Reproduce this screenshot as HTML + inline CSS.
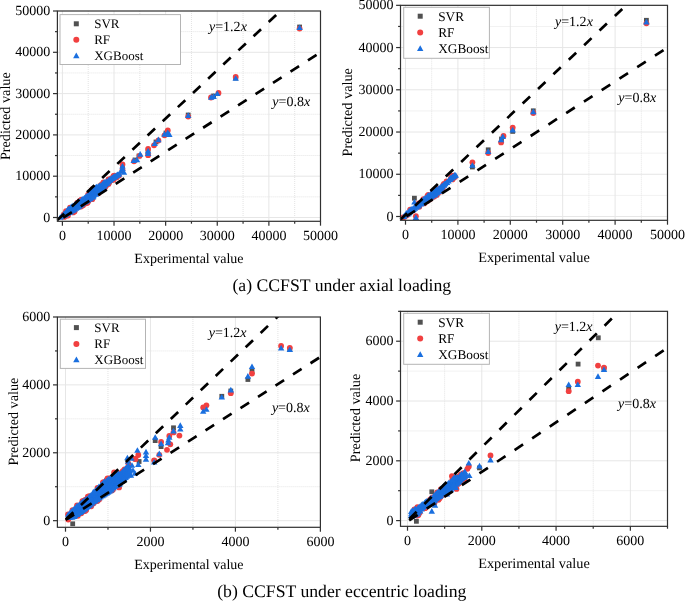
<!DOCTYPE html>
<html><head><meta charset="utf-8"><style>
html,body{margin:0;padding:0;background:#fff;}
body{width:685px;height:601px;overflow:hidden;font-family:"Liberation Serif", serif;}
svg{display:block;will-change:transform;text-rendering:geometricPrecision;}
</style></head><body>
<svg width="685" height="601" viewBox="0 0 685 601" font-family='"Liberation Serif", serif' fill="#000">
<defs>
<clipPath id="c0"><rect x="55.40" y="11.00" width="265.10" height="212.30"/></clipPath>
<clipPath id="c1"><rect x="398.50" y="5.33" width="269.00" height="216.97"/></clipPath>
<clipPath id="c2"><rect x="55.40" y="317.00" width="265.00" height="212.30"/></clipPath>
<clipPath id="c3"><rect x="398.50" y="311.33" width="269.00" height="217.00"/></clipPath>
</defs>
<rect width="685" height="601" fill="#fff"/>
<line x1="62.4" y1="11.00" x2="62.4" y2="221.30" stroke="#e6e6e6" stroke-width="1"/>
<line x1="114.02" y1="11.00" x2="114.02" y2="221.30" stroke="#e6e6e6" stroke-width="1"/>
<line x1="165.64" y1="11.00" x2="165.64" y2="221.30" stroke="#e6e6e6" stroke-width="1"/>
<line x1="217.26" y1="11.00" x2="217.26" y2="221.30" stroke="#e6e6e6" stroke-width="1"/>
<line x1="268.88" y1="11.00" x2="268.88" y2="221.30" stroke="#e6e6e6" stroke-width="1"/>
<line x1="88.21" y1="11.00" x2="88.21" y2="221.30" stroke="#e3e3e3" stroke-width="1" stroke-dasharray="1 1"/>
<line x1="139.83" y1="11.00" x2="139.83" y2="221.30" stroke="#e3e3e3" stroke-width="1" stroke-dasharray="1 1"/>
<line x1="191.45" y1="11.00" x2="191.45" y2="221.30" stroke="#e3e3e3" stroke-width="1" stroke-dasharray="1 1"/>
<line x1="243.07" y1="11.00" x2="243.07" y2="221.30" stroke="#e3e3e3" stroke-width="1" stroke-dasharray="1 1"/>
<line x1="294.69" y1="11.00" x2="294.69" y2="221.30" stroke="#e3e3e3" stroke-width="1" stroke-dasharray="1 1"/>
<line x1="57.40" y1="217.5" x2="320.50" y2="217.5" stroke="#e6e6e6" stroke-width="1"/>
<line x1="57.40" y1="176.2" x2="320.50" y2="176.2" stroke="#e6e6e6" stroke-width="1"/>
<line x1="57.40" y1="134.9" x2="320.50" y2="134.9" stroke="#e6e6e6" stroke-width="1"/>
<line x1="57.40" y1="93.6" x2="320.50" y2="93.6" stroke="#e6e6e6" stroke-width="1"/>
<line x1="57.40" y1="52.3" x2="320.50" y2="52.3" stroke="#e6e6e6" stroke-width="1"/>
<line x1="57.40" y1="196.85" x2="320.50" y2="196.85" stroke="#e3e3e3" stroke-width="1" stroke-dasharray="1 1"/>
<line x1="57.40" y1="155.55" x2="320.50" y2="155.55" stroke="#e3e3e3" stroke-width="1" stroke-dasharray="1 1"/>
<line x1="57.40" y1="114.25" x2="320.50" y2="114.25" stroke="#e3e3e3" stroke-width="1" stroke-dasharray="1 1"/>
<line x1="57.40" y1="72.95" x2="320.50" y2="72.95" stroke="#e3e3e3" stroke-width="1" stroke-dasharray="1 1"/>
<line x1="57.40" y1="31.65" x2="320.50" y2="31.65" stroke="#e3e3e3" stroke-width="1" stroke-dasharray="1 1"/>
<line x1="405.5" y1="5.33" x2="405.5" y2="220.30" stroke="#e6e6e6" stroke-width="1"/>
<line x1="457.9" y1="5.33" x2="457.9" y2="220.30" stroke="#e6e6e6" stroke-width="1"/>
<line x1="510.3" y1="5.33" x2="510.3" y2="220.30" stroke="#e6e6e6" stroke-width="1"/>
<line x1="562.7" y1="5.33" x2="562.7" y2="220.30" stroke="#e6e6e6" stroke-width="1"/>
<line x1="615.1" y1="5.33" x2="615.1" y2="220.30" stroke="#e6e6e6" stroke-width="1"/>
<line x1="431.7" y1="5.33" x2="431.7" y2="220.30" stroke="#e3e3e3" stroke-width="1" stroke-dasharray="1 1"/>
<line x1="484.1" y1="5.33" x2="484.1" y2="220.30" stroke="#e3e3e3" stroke-width="1" stroke-dasharray="1 1"/>
<line x1="536.5" y1="5.33" x2="536.5" y2="220.30" stroke="#e3e3e3" stroke-width="1" stroke-dasharray="1 1"/>
<line x1="588.9" y1="5.33" x2="588.9" y2="220.30" stroke="#e3e3e3" stroke-width="1" stroke-dasharray="1 1"/>
<line x1="641.3" y1="5.33" x2="641.3" y2="220.30" stroke="#e3e3e3" stroke-width="1" stroke-dasharray="1 1"/>
<line x1="400.50" y1="216.5" x2="667.50" y2="216.5" stroke="#e6e6e6" stroke-width="1"/>
<line x1="400.50" y1="174.27" x2="667.50" y2="174.27" stroke="#e6e6e6" stroke-width="1"/>
<line x1="400.50" y1="132.03" x2="667.50" y2="132.03" stroke="#e6e6e6" stroke-width="1"/>
<line x1="400.50" y1="89.8" x2="667.50" y2="89.8" stroke="#e6e6e6" stroke-width="1"/>
<line x1="400.50" y1="47.56" x2="667.50" y2="47.56" stroke="#e6e6e6" stroke-width="1"/>
<line x1="400.50" y1="195.38" x2="667.50" y2="195.38" stroke="#e3e3e3" stroke-width="1" stroke-dasharray="1 1"/>
<line x1="400.50" y1="153.15" x2="667.50" y2="153.15" stroke="#e3e3e3" stroke-width="1" stroke-dasharray="1 1"/>
<line x1="400.50" y1="110.92" x2="667.50" y2="110.92" stroke="#e3e3e3" stroke-width="1" stroke-dasharray="1 1"/>
<line x1="400.50" y1="68.68" x2="667.50" y2="68.68" stroke="#e3e3e3" stroke-width="1" stroke-dasharray="1 1"/>
<line x1="400.50" y1="26.45" x2="667.50" y2="26.45" stroke="#e3e3e3" stroke-width="1" stroke-dasharray="1 1"/>
<line x1="65.5" y1="317.00" x2="65.5" y2="527.30" stroke="#e6e6e6" stroke-width="1"/>
<line x1="150.46" y1="317.00" x2="150.46" y2="527.30" stroke="#e6e6e6" stroke-width="1"/>
<line x1="235.42" y1="317.00" x2="235.42" y2="527.30" stroke="#e6e6e6" stroke-width="1"/>
<line x1="107.98" y1="317.00" x2="107.98" y2="527.30" stroke="#e3e3e3" stroke-width="1" stroke-dasharray="1 1"/>
<line x1="192.94" y1="317.00" x2="192.94" y2="527.30" stroke="#e3e3e3" stroke-width="1" stroke-dasharray="1 1"/>
<line x1="277.9" y1="317.00" x2="277.9" y2="527.30" stroke="#e3e3e3" stroke-width="1" stroke-dasharray="1 1"/>
<line x1="57.40" y1="520.67" x2="320.40" y2="520.67" stroke="#e6e6e6" stroke-width="1"/>
<line x1="57.40" y1="452.78" x2="320.40" y2="452.78" stroke="#e6e6e6" stroke-width="1"/>
<line x1="57.40" y1="384.89" x2="320.40" y2="384.89" stroke="#e6e6e6" stroke-width="1"/>
<line x1="57.40" y1="486.72" x2="320.40" y2="486.72" stroke="#e3e3e3" stroke-width="1" stroke-dasharray="1 1"/>
<line x1="57.40" y1="418.83" x2="320.40" y2="418.83" stroke="#e3e3e3" stroke-width="1" stroke-dasharray="1 1"/>
<line x1="57.40" y1="350.94" x2="320.40" y2="350.94" stroke="#e3e3e3" stroke-width="1" stroke-dasharray="1 1"/>
<line x1="407.5" y1="311.33" x2="407.5" y2="526.33" stroke="#e6e6e6" stroke-width="1"/>
<line x1="481.79" y1="311.33" x2="481.79" y2="526.33" stroke="#e6e6e6" stroke-width="1"/>
<line x1="556.07" y1="311.33" x2="556.07" y2="526.33" stroke="#e6e6e6" stroke-width="1"/>
<line x1="630.36" y1="311.33" x2="630.36" y2="526.33" stroke="#e6e6e6" stroke-width="1"/>
<line x1="444.64" y1="311.33" x2="444.64" y2="526.33" stroke="#e3e3e3" stroke-width="1" stroke-dasharray="1 1"/>
<line x1="518.93" y1="311.33" x2="518.93" y2="526.33" stroke="#e3e3e3" stroke-width="1" stroke-dasharray="1 1"/>
<line x1="593.22" y1="311.33" x2="593.22" y2="526.33" stroke="#e3e3e3" stroke-width="1" stroke-dasharray="1 1"/>
<line x1="400.50" y1="520.6" x2="667.50" y2="520.6" stroke="#e6e6e6" stroke-width="1"/>
<line x1="400.50" y1="460.81" x2="667.50" y2="460.81" stroke="#e6e6e6" stroke-width="1"/>
<line x1="400.50" y1="401.02" x2="667.50" y2="401.02" stroke="#e6e6e6" stroke-width="1"/>
<line x1="400.50" y1="341.22" x2="667.50" y2="341.22" stroke="#e6e6e6" stroke-width="1"/>
<line x1="400.50" y1="490.7" x2="667.50" y2="490.7" stroke="#e3e3e3" stroke-width="1" stroke-dasharray="1 1"/>
<line x1="400.50" y1="430.91" x2="667.50" y2="430.91" stroke="#e3e3e3" stroke-width="1" stroke-dasharray="1 1"/>
<line x1="400.50" y1="371.12" x2="667.50" y2="371.12" stroke="#e3e3e3" stroke-width="1" stroke-dasharray="1 1"/>
<rect x="297.20" y="24.60" width="4.8" height="4.8" fill="#515151"/>
<rect x="233.30" y="75.60" width="4.8" height="4.8" fill="#515151"/>
<rect x="211.20" y="93.60" width="4.8" height="4.8" fill="#515151"/>
<rect x="185.80" y="112.60" width="4.8" height="4.8" fill="#515151"/>
<rect x="163.60" y="130.60" width="4.8" height="4.8" fill="#515151"/>
<rect x="153.60" y="139.60" width="4.8" height="4.8" fill="#515151"/>
<rect x="145.60" y="149.60" width="4.8" height="4.8" fill="#515151"/>
<rect x="136.60" y="153.60" width="4.8" height="4.8" fill="#515151"/>
<rect x="132.60" y="157.60" width="4.8" height="4.8" fill="#515151"/>
<rect x="120.10" y="164.60" width="4.8" height="4.8" fill="#515151"/>
<circle cx="63.64" cy="214.64" r="2.9" fill="#F14040"/>
<circle cx="65.15" cy="213.46" r="2.9" fill="#F14040"/>
<circle cx="64.23" cy="216.93" r="2.9" fill="#F14040"/>
<circle cx="66.04" cy="211.24" r="2.9" fill="#F14040"/>
<circle cx="65.83" cy="215.70" r="2.9" fill="#F14040"/>
<circle cx="67.99" cy="215.62" r="2.9" fill="#F14040"/>
<circle cx="70.04" cy="207.73" r="2.9" fill="#F14040"/>
<circle cx="73.10" cy="212.40" r="2.9" fill="#F14040"/>
<circle cx="74.55" cy="211.42" r="2.9" fill="#F14040"/>
<circle cx="77.34" cy="202.74" r="2.9" fill="#F14040"/>
<circle cx="79.71" cy="200.97" r="2.9" fill="#F14040"/>
<circle cx="79.67" cy="206.62" r="2.9" fill="#F14040"/>
<circle cx="81.39" cy="199.68" r="2.9" fill="#F14040"/>
<circle cx="81.11" cy="206.51" r="2.9" fill="#F14040"/>
<circle cx="83.10" cy="205.25" r="2.9" fill="#F14040"/>
<circle cx="86.14" cy="203.33" r="2.9" fill="#F14040"/>
<circle cx="87.47" cy="202.67" r="2.9" fill="#F14040"/>
<circle cx="88.10" cy="194.68" r="2.9" fill="#F14040"/>
<circle cx="88.50" cy="201.06" r="2.9" fill="#F14040"/>
<circle cx="89.61" cy="192.68" r="2.9" fill="#F14040"/>
<circle cx="91.71" cy="190.06" r="2.9" fill="#F14040"/>
<circle cx="92.75" cy="188.86" r="2.9" fill="#F14040"/>
<circle cx="92.27" cy="199.20" r="2.9" fill="#F14040"/>
<circle cx="94.49" cy="188.36" r="2.9" fill="#F14040"/>
<circle cx="95.24" cy="188.07" r="2.9" fill="#F14040"/>
<circle cx="98.40" cy="193.21" r="2.9" fill="#F14040"/>
<circle cx="100.88" cy="185.22" r="2.9" fill="#F14040"/>
<circle cx="102.32" cy="184.08" r="2.9" fill="#F14040"/>
<circle cx="103.42" cy="182.38" r="2.9" fill="#F14040"/>
<circle cx="103.95" cy="187.56" r="2.9" fill="#F14040"/>
<circle cx="105.30" cy="186.95" r="2.9" fill="#F14040"/>
<circle cx="106.31" cy="185.14" r="2.9" fill="#F14040"/>
<circle cx="108.51" cy="179.28" r="2.9" fill="#F14040"/>
<circle cx="108.50" cy="184.02" r="2.9" fill="#F14040"/>
<circle cx="109.43" cy="181.91" r="2.9" fill="#F14040"/>
<circle cx="111.36" cy="178.36" r="2.9" fill="#F14040"/>
<circle cx="112.06" cy="179.81" r="2.9" fill="#F14040"/>
<circle cx="113.55" cy="175.94" r="2.9" fill="#F14040"/>
<circle cx="113.46" cy="179.81" r="2.9" fill="#F14040"/>
<circle cx="114.61" cy="175.74" r="2.9" fill="#F14040"/>
<circle cx="116.50" cy="177.49" r="2.9" fill="#F14040"/>
<circle cx="118.87" cy="175.72" r="2.9" fill="#F14040"/>
<circle cx="299.60" cy="28.60" r="2.9" fill="#F14040"/>
<circle cx="235.70" cy="77.00" r="2.9" fill="#F14040"/>
<circle cx="218.50" cy="92.90" r="2.9" fill="#F14040"/>
<circle cx="211.00" cy="97.50" r="2.9" fill="#F14040"/>
<circle cx="188.20" cy="116.60" r="2.9" fill="#F14040"/>
<circle cx="167.80" cy="130.50" r="2.9" fill="#F14040"/>
<circle cx="164.50" cy="135.30" r="2.9" fill="#F14040"/>
<circle cx="154.00" cy="145.30" r="2.9" fill="#F14040"/>
<circle cx="158.40" cy="140.50" r="2.9" fill="#F14040"/>
<circle cx="148.10" cy="155.20" r="2.9" fill="#F14040"/>
<circle cx="148.10" cy="149.00" r="2.9" fill="#F14040"/>
<circle cx="139.60" cy="155.80" r="2.9" fill="#F14040"/>
<circle cx="134.00" cy="161.30" r="2.9" fill="#F14040"/>
<circle cx="122.50" cy="164.40" r="2.9" fill="#F14040"/>
<circle cx="122.50" cy="170.00" r="2.9" fill="#F14040"/>
<path d="M60.21 214.18L63.41 219.78L57.01 219.78Z" fill="#1A6FDF"/>
<path d="M61.70 213.17L64.90 218.77L58.50 218.77Z" fill="#1A6FDF"/>
<path d="M63.45 212.15L66.65 217.75L60.25 217.75Z" fill="#1A6FDF"/>
<path d="M62.89 212.49L66.09 218.09L59.69 218.09Z" fill="#1A6FDF"/>
<path d="M64.20 210.14L67.40 215.74L61.00 215.74Z" fill="#1A6FDF"/>
<path d="M64.92 211.98L68.12 217.58L61.72 217.58Z" fill="#1A6FDF"/>
<path d="M66.54 208.35L69.74 213.95L63.34 213.95Z" fill="#1A6FDF"/>
<path d="M65.82 210.38L69.02 215.98L62.62 215.98Z" fill="#1A6FDF"/>
<path d="M65.63 211.14L68.83 216.74L62.43 216.74Z" fill="#1A6FDF"/>
<path d="M67.46 206.84L70.66 212.44L64.26 212.44Z" fill="#1A6FDF"/>
<path d="M67.02 209.27L70.22 214.87L63.82 214.87Z" fill="#1A6FDF"/>
<path d="M67.56 210.29L70.76 215.89L64.36 215.89Z" fill="#1A6FDF"/>
<path d="M68.52 205.65L71.72 211.25L65.32 211.25Z" fill="#1A6FDF"/>
<path d="M69.12 207.96L72.32 213.56L65.92 213.56Z" fill="#1A6FDF"/>
<path d="M69.34 209.45L72.54 215.05L66.14 215.05Z" fill="#1A6FDF"/>
<path d="M70.47 204.41L73.67 210.01L67.27 210.01Z" fill="#1A6FDF"/>
<path d="M70.39 206.88L73.59 212.48L67.19 212.48Z" fill="#1A6FDF"/>
<path d="M70.65 208.57L73.85 214.17L67.45 214.17Z" fill="#1A6FDF"/>
<path d="M70.39 208.61L73.59 214.21L67.19 214.21Z" fill="#1A6FDF"/>
<path d="M71.37 203.48L74.57 209.08L68.17 209.08Z" fill="#1A6FDF"/>
<path d="M71.90 205.58L75.10 211.18L68.70 211.18Z" fill="#1A6FDF"/>
<path d="M71.57 207.39L74.77 212.99L68.37 212.99Z" fill="#1A6FDF"/>
<path d="M71.71 207.76L74.91 213.36L68.51 213.36Z" fill="#1A6FDF"/>
<path d="M72.99 202.50L76.19 208.10L69.79 208.10Z" fill="#1A6FDF"/>
<path d="M72.63 204.15L75.83 209.75L69.43 209.75Z" fill="#1A6FDF"/>
<path d="M73.30 206.90L76.50 212.50L70.10 212.50Z" fill="#1A6FDF"/>
<path d="M73.19 206.92L76.39 212.52L69.99 212.52Z" fill="#1A6FDF"/>
<path d="M74.77 201.62L77.97 207.22L71.57 207.22Z" fill="#1A6FDF"/>
<path d="M74.86 203.38L78.06 208.98L71.66 208.98Z" fill="#1A6FDF"/>
<path d="M74.51 205.95L77.71 211.55L71.31 211.55Z" fill="#1A6FDF"/>
<path d="M74.58 205.98L77.78 211.58L71.38 211.58Z" fill="#1A6FDF"/>
<path d="M75.41 200.89L78.61 206.49L72.21 206.49Z" fill="#1A6FDF"/>
<path d="M76.22 202.97L79.42 208.57L73.02 208.57Z" fill="#1A6FDF"/>
<path d="M76.14 204.91L79.34 210.51L72.94 210.51Z" fill="#1A6FDF"/>
<path d="M75.92 205.01L79.12 210.61L72.72 210.61Z" fill="#1A6FDF"/>
<path d="M76.86 200.08L80.06 205.68L73.66 205.68Z" fill="#1A6FDF"/>
<path d="M77.37 201.55L80.57 207.15L74.17 207.15Z" fill="#1A6FDF"/>
<path d="M77.30 203.78L80.50 209.38L74.10 209.38Z" fill="#1A6FDF"/>
<path d="M77.16 204.05L80.36 209.65L73.96 209.65Z" fill="#1A6FDF"/>
<path d="M78.66 198.53L81.86 204.13L75.46 204.13Z" fill="#1A6FDF"/>
<path d="M78.43 200.65L81.63 206.25L75.23 206.25Z" fill="#1A6FDF"/>
<path d="M78.78 203.20L81.98 208.80L75.58 208.80Z" fill="#1A6FDF"/>
<path d="M79.00 203.09L82.20 208.69L75.80 208.69Z" fill="#1A6FDF"/>
<path d="M79.86 198.30L83.06 203.90L76.66 203.90Z" fill="#1A6FDF"/>
<path d="M80.27 199.69L83.47 205.29L77.07 205.29Z" fill="#1A6FDF"/>
<path d="M79.62 201.64L82.82 207.24L76.42 207.24Z" fill="#1A6FDF"/>
<path d="M80.36 202.13L83.56 207.73L77.16 207.73Z" fill="#1A6FDF"/>
<path d="M81.53 196.71L84.73 202.31L78.33 202.31Z" fill="#1A6FDF"/>
<path d="M81.27 199.14L84.47 204.74L78.07 204.74Z" fill="#1A6FDF"/>
<path d="M81.45 200.83L84.65 206.43L78.25 206.43Z" fill="#1A6FDF"/>
<path d="M81.47 201.13L84.67 206.73L78.27 206.73Z" fill="#1A6FDF"/>
<path d="M82.91 195.69L86.11 201.29L79.71 201.29Z" fill="#1A6FDF"/>
<path d="M83.01 198.18L86.21 203.78L79.81 203.78Z" fill="#1A6FDF"/>
<path d="M82.42 199.54L85.62 205.14L79.22 205.14Z" fill="#1A6FDF"/>
<path d="M82.55 200.13L85.75 205.73L79.35 205.73Z" fill="#1A6FDF"/>
<path d="M84.34 194.65L87.54 200.25L81.14 200.25Z" fill="#1A6FDF"/>
<path d="M84.78 197.11L87.98 202.71L81.58 202.71Z" fill="#1A6FDF"/>
<path d="M84.32 198.65L87.52 204.25L81.12 204.25Z" fill="#1A6FDF"/>
<path d="M84.45 199.14L87.65 204.74L81.25 204.74Z" fill="#1A6FDF"/>
<path d="M85.52 193.91L88.72 199.51L82.32 199.51Z" fill="#1A6FDF"/>
<path d="M85.26 195.65L88.46 201.25L82.06 201.25Z" fill="#1A6FDF"/>
<path d="M86.17 198.11L89.37 203.71L82.97 203.71Z" fill="#1A6FDF"/>
<path d="M85.51 198.14L88.71 203.74L82.31 203.74Z" fill="#1A6FDF"/>
<path d="M87.02 192.54L90.22 198.14L83.82 198.14Z" fill="#1A6FDF"/>
<path d="M86.61 195.04L89.81 200.64L83.41 200.64Z" fill="#1A6FDF"/>
<path d="M86.64 197.00L89.84 202.60L83.44 202.60Z" fill="#1A6FDF"/>
<path d="M87.56 197.20L90.76 202.80L84.36 202.80Z" fill="#1A6FDF"/>
<path d="M88.70 191.68L91.90 197.28L85.50 197.28Z" fill="#1A6FDF"/>
<path d="M88.38 193.55L91.58 199.15L85.18 199.15Z" fill="#1A6FDF"/>
<path d="M88.21 195.82L91.41 201.42L85.01 201.42Z" fill="#1A6FDF"/>
<path d="M88.43 196.37L91.63 201.97L85.23 201.97Z" fill="#1A6FDF"/>
<path d="M90.27 189.99L93.47 195.59L87.07 195.59Z" fill="#1A6FDF"/>
<path d="M89.42 191.43L92.62 197.03L86.22 197.03Z" fill="#1A6FDF"/>
<path d="M89.73 194.06L92.93 199.66L86.53 199.66Z" fill="#1A6FDF"/>
<path d="M90.18 195.53L93.38 201.13L86.98 201.13Z" fill="#1A6FDF"/>
<path d="M91.73 187.48L94.93 193.08L88.53 193.08Z" fill="#1A6FDF"/>
<path d="M91.68 189.75L94.88 195.35L88.48 195.35Z" fill="#1A6FDF"/>
<path d="M91.28 191.99L94.48 197.59L88.08 197.59Z" fill="#1A6FDF"/>
<path d="M91.03 193.78L94.23 199.38L87.83 199.38Z" fill="#1A6FDF"/>
<path d="M90.88 194.69L94.08 200.29L87.68 200.29Z" fill="#1A6FDF"/>
<path d="M92.80 186.81L96.00 192.41L89.60 192.41Z" fill="#1A6FDF"/>
<path d="M92.57 188.41L95.77 194.01L89.37 194.01Z" fill="#1A6FDF"/>
<path d="M92.49 190.83L95.69 196.43L89.29 196.43Z" fill="#1A6FDF"/>
<path d="M92.80 192.90L96.00 198.50L89.60 198.50Z" fill="#1A6FDF"/>
<path d="M93.09 193.86L96.29 199.46L89.89 199.46Z" fill="#1A6FDF"/>
<path d="M94.39 185.74L97.59 191.34L91.19 191.34Z" fill="#1A6FDF"/>
<path d="M93.94 187.57L97.14 193.17L90.74 193.17Z" fill="#1A6FDF"/>
<path d="M94.38 189.38L97.58 194.98L91.18 194.98Z" fill="#1A6FDF"/>
<path d="M94.17 191.26L97.37 196.86L90.97 196.86Z" fill="#1A6FDF"/>
<path d="M93.68 192.64L96.88 198.24L90.48 198.24Z" fill="#1A6FDF"/>
<path d="M95.46 184.51L98.66 190.11L92.26 190.11Z" fill="#1A6FDF"/>
<path d="M95.79 186.95L98.99 192.55L92.59 192.55Z" fill="#1A6FDF"/>
<path d="M95.01 188.82L98.21 194.42L91.81 194.42Z" fill="#1A6FDF"/>
<path d="M95.09 190.38L98.29 195.98L91.89 195.98Z" fill="#1A6FDF"/>
<path d="M95.89 191.13L99.09 196.73L92.69 196.73Z" fill="#1A6FDF"/>
<path d="M96.52 183.77L99.72 189.37L93.32 189.37Z" fill="#1A6FDF"/>
<path d="M96.64 186.23L99.84 191.83L93.44 191.83Z" fill="#1A6FDF"/>
<path d="M96.50 188.36L99.70 193.96L93.30 193.96Z" fill="#1A6FDF"/>
<path d="M96.78 189.63L99.98 195.23L93.58 195.23Z" fill="#1A6FDF"/>
<path d="M98.09 183.19L101.29 188.79L94.89 188.79Z" fill="#1A6FDF"/>
<path d="M98.28 185.07L101.48 190.67L95.08 190.67Z" fill="#1A6FDF"/>
<path d="M98.45 187.02L101.65 192.62L95.25 192.62Z" fill="#1A6FDF"/>
<path d="M97.81 188.37L101.01 193.97L94.61 193.97Z" fill="#1A6FDF"/>
<path d="M99.51 182.39L102.71 187.99L96.31 187.99Z" fill="#1A6FDF"/>
<path d="M100.11 185.11L103.31 190.71L96.91 190.71Z" fill="#1A6FDF"/>
<path d="M100.17 186.43L103.37 192.03L96.97 192.03Z" fill="#1A6FDF"/>
<path d="M99.42 187.20L102.62 192.80L96.22 192.80Z" fill="#1A6FDF"/>
<path d="M101.14 181.99L104.34 187.59L97.94 187.59Z" fill="#1A6FDF"/>
<path d="M101.26 183.64L104.46 189.24L98.06 189.24Z" fill="#1A6FDF"/>
<path d="M101.14 185.68L104.34 191.28L97.94 191.28Z" fill="#1A6FDF"/>
<path d="M100.85 186.03L104.05 191.63L97.65 191.63Z" fill="#1A6FDF"/>
<path d="M102.65 180.98L105.85 186.58L99.45 186.58Z" fill="#1A6FDF"/>
<path d="M102.94 182.78L106.14 188.38L99.74 188.38Z" fill="#1A6FDF"/>
<path d="M102.31 184.65L105.51 190.25L99.11 190.25Z" fill="#1A6FDF"/>
<path d="M103.70 179.76L106.90 185.36L100.50 185.36Z" fill="#1A6FDF"/>
<path d="M103.94 181.95L107.14 187.55L100.74 187.55Z" fill="#1A6FDF"/>
<path d="M104.00 183.17L107.20 188.77L100.80 188.77Z" fill="#1A6FDF"/>
<path d="M104.88 179.03L108.08 184.63L101.68 184.63Z" fill="#1A6FDF"/>
<path d="M105.09 181.15L108.29 186.75L101.89 186.75Z" fill="#1A6FDF"/>
<path d="M105.29 181.70L108.49 187.30L102.09 187.30Z" fill="#1A6FDF"/>
<path d="M106.28 178.33L109.48 183.93L103.08 183.93Z" fill="#1A6FDF"/>
<path d="M106.37 180.19L109.57 185.79L103.17 185.79Z" fill="#1A6FDF"/>
<path d="M107.18 180.23L110.38 185.83L103.98 185.83Z" fill="#1A6FDF"/>
<path d="M108.52 176.88L111.72 182.48L105.32 182.48Z" fill="#1A6FDF"/>
<path d="M108.49 178.75L111.69 184.35L105.29 184.35Z" fill="#1A6FDF"/>
<path d="M109.91 176.39L113.11 181.99L106.71 181.99Z" fill="#1A6FDF"/>
<path d="M109.75 177.42L112.95 183.02L106.55 183.02Z" fill="#1A6FDF"/>
<path d="M111.11 175.33L114.31 180.93L107.91 180.93Z" fill="#1A6FDF"/>
<path d="M110.65 176.45L113.85 182.05L107.45 182.05Z" fill="#1A6FDF"/>
<path d="M112.34 174.55L115.54 180.15L109.14 180.15Z" fill="#1A6FDF"/>
<path d="M112.25 175.48L115.45 181.08L109.05 181.08Z" fill="#1A6FDF"/>
<path d="M113.85 173.51L117.05 179.11L110.65 179.11Z" fill="#1A6FDF"/>
<path d="M113.77 174.52L116.97 180.12L110.57 180.12Z" fill="#1A6FDF"/>
<path d="M115.00 172.82L118.20 178.42L111.80 178.42Z" fill="#1A6FDF"/>
<path d="M115.21 173.55L118.41 179.15L112.01 179.15Z" fill="#1A6FDF"/>
<path d="M116.65 172.18L119.85 177.78L113.45 177.78Z" fill="#1A6FDF"/>
<path d="M116.69 172.62L119.89 178.22L113.49 178.22Z" fill="#1A6FDF"/>
<path d="M117.63 171.49L120.83 177.09L114.43 177.09Z" fill="#1A6FDF"/>
<path d="M117.96 171.71L121.16 177.31L114.76 177.31Z" fill="#1A6FDF"/>
<path d="M119.12 170.84L122.32 176.44L115.92 176.44Z" fill="#1A6FDF"/>
<path d="M299.60 24.40L302.80 30.00L296.40 30.00Z" fill="#1A6FDF"/>
<path d="M235.70 75.20L238.90 80.80L232.50 80.80Z" fill="#1A6FDF"/>
<path d="M211.20 94.10L214.40 99.70L208.00 99.70Z" fill="#1A6FDF"/>
<path d="M213.60 93.30L216.80 98.90L210.40 98.90Z" fill="#1A6FDF"/>
<path d="M217.30 90.40L220.50 96.00L214.10 96.00Z" fill="#1A6FDF"/>
<path d="M188.20 112.30L191.40 117.90L185.00 117.90Z" fill="#1A6FDF"/>
<path d="M164.50 131.10L167.70 136.70L161.30 136.70Z" fill="#1A6FDF"/>
<path d="M167.80 129.40L171.00 135.00L164.60 135.00Z" fill="#1A6FDF"/>
<path d="M169.40 131.40L172.60 137.00L166.20 137.00Z" fill="#1A6FDF"/>
<path d="M154.70 140.30L157.90 145.90L151.50 145.90Z" fill="#1A6FDF"/>
<path d="M158.40 136.60L161.60 142.20L155.20 142.20Z" fill="#1A6FDF"/>
<path d="M148.10 147.80L151.30 153.40L144.90 153.40Z" fill="#1A6FDF"/>
<path d="M148.10 150.40L151.30 156.00L144.90 156.00Z" fill="#1A6FDF"/>
<path d="M140.20 151.10L143.40 156.70L137.00 156.70Z" fill="#1A6FDF"/>
<path d="M133.70 157.40L136.90 163.00L130.50 163.00Z" fill="#1A6FDF"/>
<path d="M137.00 156.60L140.20 162.20L133.80 162.20Z" fill="#1A6FDF"/>
<path d="M122.50 162.90L125.70 168.50L119.30 168.50Z" fill="#1A6FDF"/>
<path d="M122.50 165.50L125.70 171.10L119.30 171.10Z" fill="#1A6FDF"/>
<path d="M121.00 168.20L124.20 173.80L117.80 173.80Z" fill="#1A6FDF"/>
<path d="M124.00 169.20L127.20 174.80L120.80 174.80Z" fill="#1A6FDF"/>
<rect x="644.00" y="17.90" width="4.8" height="4.8" fill="#515151"/>
<rect x="530.90" y="108.40" width="4.8" height="4.8" fill="#515151"/>
<rect x="510.30" y="129.00" width="4.8" height="4.8" fill="#515151"/>
<rect x="499.10" y="136.60" width="4.8" height="4.8" fill="#515151"/>
<rect x="485.80" y="147.40" width="4.8" height="4.8" fill="#515151"/>
<rect x="470.00" y="164.60" width="4.8" height="4.8" fill="#515151"/>
<rect x="412.00" y="195.80" width="4.8" height="4.8" fill="#515151"/>
<circle cx="403.08" cy="217.29" r="2.9" fill="#F14040"/>
<circle cx="405.01" cy="216.61" r="2.9" fill="#F14040"/>
<circle cx="407.24" cy="215.12" r="2.9" fill="#F14040"/>
<circle cx="410.14" cy="209.61" r="2.9" fill="#F14040"/>
<circle cx="418.72" cy="203.42" r="2.9" fill="#F14040"/>
<circle cx="419.31" cy="206.65" r="2.9" fill="#F14040"/>
<circle cx="423.34" cy="199.14" r="2.9" fill="#F14040"/>
<circle cx="424.21" cy="203.46" r="2.9" fill="#F14040"/>
<circle cx="426.35" cy="201.47" r="2.9" fill="#F14040"/>
<circle cx="427.49" cy="196.02" r="2.9" fill="#F14040"/>
<circle cx="427.79" cy="200.66" r="2.9" fill="#F14040"/>
<circle cx="428.23" cy="194.92" r="2.9" fill="#F14040"/>
<circle cx="430.26" cy="199.12" r="2.9" fill="#F14040"/>
<circle cx="432.96" cy="191.52" r="2.9" fill="#F14040"/>
<circle cx="432.43" cy="197.25" r="2.9" fill="#F14040"/>
<circle cx="434.24" cy="196.43" r="2.9" fill="#F14040"/>
<circle cx="436.70" cy="188.80" r="2.9" fill="#F14040"/>
<circle cx="436.82" cy="194.89" r="2.9" fill="#F14040"/>
<circle cx="439.49" cy="192.04" r="2.9" fill="#F14040"/>
<circle cx="441.78" cy="189.81" r="2.9" fill="#F14040"/>
<circle cx="443.04" cy="185.42" r="2.9" fill="#F14040"/>
<circle cx="442.65" cy="188.36" r="2.9" fill="#F14040"/>
<circle cx="443.88" cy="183.91" r="2.9" fill="#F14040"/>
<circle cx="446.52" cy="181.50" r="2.9" fill="#F14040"/>
<circle cx="451.13" cy="177.15" r="2.9" fill="#F14040"/>
<circle cx="452.23" cy="175.92" r="2.9" fill="#F14040"/>
<circle cx="452.43" cy="179.39" r="2.9" fill="#F14040"/>
<circle cx="453.76" cy="175.71" r="2.9" fill="#F14040"/>
<circle cx="453.82" cy="177.64" r="2.9" fill="#F14040"/>
<circle cx="455.10" cy="176.80" r="2.9" fill="#F14040"/>
<circle cx="646.40" cy="23.30" r="2.9" fill="#F14040"/>
<circle cx="533.30" cy="113.00" r="2.9" fill="#F14040"/>
<circle cx="512.70" cy="127.60" r="2.9" fill="#F14040"/>
<circle cx="501.10" cy="142.40" r="2.9" fill="#F14040"/>
<circle cx="503.50" cy="136.00" r="2.9" fill="#F14040"/>
<circle cx="488.20" cy="153.00" r="2.9" fill="#F14040"/>
<circle cx="472.40" cy="162.30" r="2.9" fill="#F14040"/>
<circle cx="415.90" cy="216.20" r="2.9" fill="#F14040"/>
<path d="M403.86 213.34L407.06 218.94L400.66 218.94Z" fill="#1A6FDF"/>
<path d="M405.09 211.99L408.29 217.59L401.89 217.59Z" fill="#1A6FDF"/>
<path d="M406.38 210.07L409.58 215.67L403.18 215.67Z" fill="#1A6FDF"/>
<path d="M406.23 211.19L409.43 216.79L403.03 216.79Z" fill="#1A6FDF"/>
<path d="M408.19 209.52L411.39 215.12L404.99 215.12Z" fill="#1A6FDF"/>
<path d="M407.74 210.79L410.94 216.39L404.54 216.39Z" fill="#1A6FDF"/>
<path d="M409.06 207.84L412.26 213.44L405.86 213.44Z" fill="#1A6FDF"/>
<path d="M408.98 209.78L412.18 215.38L405.78 215.38Z" fill="#1A6FDF"/>
<path d="M410.56 206.59L413.76 212.19L407.36 212.19Z" fill="#1A6FDF"/>
<path d="M410.02 208.62L413.22 214.22L406.82 214.22Z" fill="#1A6FDF"/>
<path d="M412.07 205.49L415.27 211.09L408.87 211.09Z" fill="#1A6FDF"/>
<path d="M412.29 207.45L415.49 213.05L409.09 213.05Z" fill="#1A6FDF"/>
<path d="M413.71 204.90L416.91 210.50L410.51 210.50Z" fill="#1A6FDF"/>
<path d="M413.59 206.28L416.79 211.88L410.39 211.88Z" fill="#1A6FDF"/>
<path d="M415.16 203.36L418.36 208.96L411.96 208.96Z" fill="#1A6FDF"/>
<path d="M414.95 205.18L418.15 210.78L411.75 210.78Z" fill="#1A6FDF"/>
<path d="M416.13 202.57L419.33 208.17L412.93 208.17Z" fill="#1A6FDF"/>
<path d="M416.52 204.13L419.72 209.73L413.32 209.73Z" fill="#1A6FDF"/>
<path d="M417.35 201.83L420.55 207.43L414.15 207.43Z" fill="#1A6FDF"/>
<path d="M417.90 203.08L421.10 208.68L414.70 208.68Z" fill="#1A6FDF"/>
<path d="M419.32 200.56L422.52 206.16L416.12 206.16Z" fill="#1A6FDF"/>
<path d="M418.89 202.03L422.09 207.63L415.69 207.63Z" fill="#1A6FDF"/>
<path d="M420.71 199.06L423.91 204.66L417.51 204.66Z" fill="#1A6FDF"/>
<path d="M420.76 200.99L423.96 206.59L417.56 206.59Z" fill="#1A6FDF"/>
<path d="M421.72 198.16L424.92 203.76L418.52 203.76Z" fill="#1A6FDF"/>
<path d="M421.79 199.89L424.99 205.49L418.59 205.49Z" fill="#1A6FDF"/>
<path d="M421.41 200.03L424.61 205.63L418.21 205.63Z" fill="#1A6FDF"/>
<path d="M423.22 196.53L426.42 202.13L420.02 202.13Z" fill="#1A6FDF"/>
<path d="M423.42 199.05L426.62 204.65L420.22 204.65Z" fill="#1A6FDF"/>
<path d="M423.51 199.07L426.71 204.67L420.31 204.67Z" fill="#1A6FDF"/>
<path d="M424.27 195.48L427.47 201.08L421.07 201.08Z" fill="#1A6FDF"/>
<path d="M424.88 197.38L428.08 202.98L421.68 202.98Z" fill="#1A6FDF"/>
<path d="M424.52 198.11L427.72 203.71L421.32 203.71Z" fill="#1A6FDF"/>
<path d="M425.82 194.70L429.02 200.30L422.62 200.30Z" fill="#1A6FDF"/>
<path d="M425.43 196.42L428.63 202.02L422.23 202.02Z" fill="#1A6FDF"/>
<path d="M425.57 197.14L428.77 202.74L422.37 202.74Z" fill="#1A6FDF"/>
<path d="M427.53 192.97L430.73 198.57L424.33 198.57Z" fill="#1A6FDF"/>
<path d="M427.06 195.61L430.26 201.21L423.86 201.21Z" fill="#1A6FDF"/>
<path d="M426.96 196.18L430.16 201.78L423.76 201.78Z" fill="#1A6FDF"/>
<path d="M428.24 192.06L431.44 197.66L425.04 197.66Z" fill="#1A6FDF"/>
<path d="M428.82 194.38L432.02 199.98L425.62 199.98Z" fill="#1A6FDF"/>
<path d="M428.31 195.28L431.51 200.88L425.11 200.88Z" fill="#1A6FDF"/>
<path d="M430.34 191.49L433.54 197.09L427.14 197.09Z" fill="#1A6FDF"/>
<path d="M430.36 193.46L433.56 199.06L427.16 199.06Z" fill="#1A6FDF"/>
<path d="M430.31 194.44L433.51 200.04L427.11 200.04Z" fill="#1A6FDF"/>
<path d="M431.10 190.12L434.30 195.72L427.90 195.72Z" fill="#1A6FDF"/>
<path d="M431.87 191.86L435.07 197.46L428.67 197.46Z" fill="#1A6FDF"/>
<path d="M431.58 193.60L434.78 199.20L428.38 199.20Z" fill="#1A6FDF"/>
<path d="M432.54 189.52L435.74 195.12L429.34 195.12Z" fill="#1A6FDF"/>
<path d="M432.66 191.24L435.86 196.84L429.46 196.84Z" fill="#1A6FDF"/>
<path d="M432.82 192.76L436.02 198.36L429.62 198.36Z" fill="#1A6FDF"/>
<path d="M433.90 188.25L437.10 193.85L430.70 193.85Z" fill="#1A6FDF"/>
<path d="M434.31 190.53L437.51 196.13L431.11 196.13Z" fill="#1A6FDF"/>
<path d="M434.73 191.83L437.93 197.43L431.53 197.43Z" fill="#1A6FDF"/>
<path d="M435.79 187.31L438.99 192.91L432.59 192.91Z" fill="#1A6FDF"/>
<path d="M436.00 189.37L439.20 194.97L432.80 194.97Z" fill="#1A6FDF"/>
<path d="M435.46 190.90L438.66 196.50L432.26 196.50Z" fill="#1A6FDF"/>
<path d="M436.60 186.01L439.80 191.61L433.40 191.61Z" fill="#1A6FDF"/>
<path d="M437.01 188.07L440.21 193.67L433.81 193.67Z" fill="#1A6FDF"/>
<path d="M437.32 189.97L440.52 195.57L434.12 195.57Z" fill="#1A6FDF"/>
<path d="M438.46 185.41L441.66 191.01L435.26 191.01Z" fill="#1A6FDF"/>
<path d="M438.64 187.33L441.84 192.93L435.44 192.93Z" fill="#1A6FDF"/>
<path d="M438.91 188.48L442.11 194.08L435.71 194.08Z" fill="#1A6FDF"/>
<path d="M439.83 184.73L443.03 190.33L436.63 190.33Z" fill="#1A6FDF"/>
<path d="M439.98 186.36L443.18 191.96L436.78 191.96Z" fill="#1A6FDF"/>
<path d="M439.82 186.77L443.02 192.37L436.62 192.37Z" fill="#1A6FDF"/>
<path d="M441.17 183.58L444.37 189.18L437.97 189.18Z" fill="#1A6FDF"/>
<path d="M441.72 185.07L444.92 190.67L438.52 190.67Z" fill="#1A6FDF"/>
<path d="M442.22 182.56L445.42 188.16L439.02 188.16Z" fill="#1A6FDF"/>
<path d="M442.30 183.57L445.50 189.17L439.10 189.17Z" fill="#1A6FDF"/>
<path d="M444.09 181.03L447.29 186.63L440.89 186.63Z" fill="#1A6FDF"/>
<path d="M444.19 182.13L447.39 187.73L440.99 187.73Z" fill="#1A6FDF"/>
<path d="M445.08 180.43L448.28 186.03L441.88 186.03Z" fill="#1A6FDF"/>
<path d="M445.19 180.68L448.39 186.28L441.99 186.28Z" fill="#1A6FDF"/>
<path d="M446.86 179.41L450.06 185.01L443.66 185.01Z" fill="#1A6FDF"/>
<path d="M446.80 179.22L450.00 184.82L443.60 184.82Z" fill="#1A6FDF"/>
<path d="M448.41 177.89L451.61 183.49L445.21 183.49Z" fill="#1A6FDF"/>
<path d="M449.22 176.32L452.42 181.92L446.02 181.92Z" fill="#1A6FDF"/>
<path d="M449.98 176.30L453.18 181.90L446.78 181.90Z" fill="#1A6FDF"/>
<path d="M450.96 174.34L454.16 179.94L447.76 179.94Z" fill="#1A6FDF"/>
<path d="M451.40 175.27L454.60 180.87L448.20 180.87Z" fill="#1A6FDF"/>
<path d="M452.80 173.48L456.00 179.08L449.60 179.08Z" fill="#1A6FDF"/>
<path d="M452.84 174.27L456.04 179.87L449.64 179.87Z" fill="#1A6FDF"/>
<path d="M454.32 172.39L457.52 177.99L451.12 177.99Z" fill="#1A6FDF"/>
<path d="M454.22 173.26L457.42 178.86L451.02 178.86Z" fill="#1A6FDF"/>
<path d="M454.89 171.82L458.09 177.42L451.69 177.42Z" fill="#1A6FDF"/>
<path d="M455.79 172.22L458.99 177.82L452.59 177.82Z" fill="#1A6FDF"/>
<path d="M646.40 18.80L649.60 24.40L643.20 24.40Z" fill="#1A6FDF"/>
<path d="M533.30 108.60L536.50 114.20L530.10 114.20Z" fill="#1A6FDF"/>
<path d="M512.70 126.80L515.90 132.40L509.50 132.40Z" fill="#1A6FDF"/>
<path d="M502.80 133.40L506.00 139.00L499.60 139.00Z" fill="#1A6FDF"/>
<path d="M501.10 136.70L504.30 142.30L497.90 142.30Z" fill="#1A6FDF"/>
<path d="M488.20 148.40L491.40 154.00L485.00 154.00Z" fill="#1A6FDF"/>
<path d="M472.40 162.20L475.60 167.80L469.20 167.80Z" fill="#1A6FDF"/>
<path d="M414.40 199.00L417.60 204.60L411.20 204.60Z" fill="#1A6FDF"/>
<path d="M415.90 214.30L419.10 219.90L412.70 219.90Z" fill="#1A6FDF"/>
<rect x="287.40" y="347.10" width="4.8" height="4.8" fill="#515151"/>
<rect x="249.60" y="368.90" width="4.8" height="4.8" fill="#515151"/>
<rect x="245.50" y="377.10" width="4.8" height="4.8" fill="#515151"/>
<rect x="228.40" y="388.60" width="4.8" height="4.8" fill="#515151"/>
<rect x="219.40" y="393.90" width="4.8" height="4.8" fill="#515151"/>
<rect x="171.10" y="425.40" width="4.8" height="4.8" fill="#515151"/>
<rect x="158.70" y="444.20" width="4.8" height="4.8" fill="#515151"/>
<rect x="152.80" y="438.20" width="4.8" height="4.8" fill="#515151"/>
<rect x="151.80" y="458.60" width="4.8" height="4.8" fill="#515151"/>
<rect x="136.70" y="459.10" width="4.8" height="4.8" fill="#515151"/>
<rect x="70.30" y="521.40" width="4.8" height="4.8" fill="#515151"/>
<circle cx="68.01" cy="514.39" r="2.9" fill="#F14040"/>
<circle cx="68.23" cy="519.56" r="2.9" fill="#F14040"/>
<circle cx="72.42" cy="510.26" r="2.9" fill="#F14040"/>
<circle cx="77.01" cy="505.49" r="2.9" fill="#F14040"/>
<circle cx="77.84" cy="515.74" r="2.9" fill="#F14040"/>
<circle cx="81.23" cy="513.33" r="2.9" fill="#F14040"/>
<circle cx="82.36" cy="501.22" r="2.9" fill="#F14040"/>
<circle cx="83.84" cy="500.63" r="2.9" fill="#F14040"/>
<circle cx="83.72" cy="511.30" r="2.9" fill="#F14040"/>
<circle cx="85.61" cy="499.74" r="2.9" fill="#F14040"/>
<circle cx="85.08" cy="510.94" r="2.9" fill="#F14040"/>
<circle cx="86.20" cy="509.94" r="2.9" fill="#F14040"/>
<circle cx="87.83" cy="496.63" r="2.9" fill="#F14040"/>
<circle cx="89.30" cy="496.07" r="2.9" fill="#F14040"/>
<circle cx="91.19" cy="506.37" r="2.9" fill="#F14040"/>
<circle cx="91.85" cy="504.24" r="2.9" fill="#F14040"/>
<circle cx="93.53" cy="503.14" r="2.9" fill="#F14040"/>
<circle cx="96.46" cy="501.09" r="2.9" fill="#F14040"/>
<circle cx="97.50" cy="487.88" r="2.9" fill="#F14040"/>
<circle cx="97.42" cy="500.93" r="2.9" fill="#F14040"/>
<circle cx="99.12" cy="499.58" r="2.9" fill="#F14040"/>
<circle cx="103.02" cy="482.33" r="2.9" fill="#F14040"/>
<circle cx="106.67" cy="480.11" r="2.9" fill="#F14040"/>
<circle cx="109.35" cy="479.25" r="2.9" fill="#F14040"/>
<circle cx="110.33" cy="478.04" r="2.9" fill="#F14040"/>
<circle cx="111.90" cy="490.44" r="2.9" fill="#F14040"/>
<circle cx="112.99" cy="489.45" r="2.9" fill="#F14040"/>
<circle cx="120.30" cy="473.20" r="2.9" fill="#F14040"/>
<circle cx="122.71" cy="471.24" r="2.9" fill="#F14040"/>
<circle cx="124.47" cy="469.43" r="2.9" fill="#F14040"/>
<circle cx="129.05" cy="465.64" r="2.9" fill="#F14040"/>
<circle cx="281.10" cy="346.00" r="2.9" fill="#F14040"/>
<circle cx="289.80" cy="347.80" r="2.9" fill="#F14040"/>
<circle cx="252.00" cy="373.60" r="2.9" fill="#F14040"/>
<circle cx="230.80" cy="393.20" r="2.9" fill="#F14040"/>
<circle cx="203.20" cy="407.40" r="2.9" fill="#F14040"/>
<circle cx="206.40" cy="405.30" r="2.9" fill="#F14040"/>
<circle cx="179.40" cy="435.60" r="2.9" fill="#F14040"/>
<circle cx="173.50" cy="432.40" r="2.9" fill="#F14040"/>
<circle cx="169.30" cy="436.00" r="2.9" fill="#F14040"/>
<circle cx="170.30" cy="444.30" r="2.9" fill="#F14040"/>
<circle cx="167.00" cy="449.80" r="2.9" fill="#F14040"/>
<circle cx="161.10" cy="442.00" r="2.9" fill="#F14040"/>
<circle cx="159.30" cy="454.80" r="2.9" fill="#F14040"/>
<circle cx="154.20" cy="460.30" r="2.9" fill="#F14040"/>
<circle cx="135.50" cy="458.90" r="2.9" fill="#F14040"/>
<circle cx="138.30" cy="455.00" r="2.9" fill="#F14040"/>
<circle cx="135.00" cy="459.10" r="2.9" fill="#F14040"/>
<circle cx="128.30" cy="463.30" r="2.9" fill="#F14040"/>
<circle cx="114.10" cy="472.40" r="2.9" fill="#F14040"/>
<circle cx="107.50" cy="478.30" r="2.9" fill="#F14040"/>
<circle cx="103.30" cy="482.40" r="2.9" fill="#F14040"/>
<circle cx="119.10" cy="487.40" r="2.9" fill="#F14040"/>
<path d="M68.24 511.22L71.44 516.82L65.04 516.82Z" fill="#1A6FDF"/>
<path d="M68.37 513.26L71.57 518.86L65.17 518.86Z" fill="#1A6FDF"/>
<path d="M68.63 514.07L71.83 519.67L65.43 519.67Z" fill="#1A6FDF"/>
<path d="M69.87 510.03L73.07 515.63L66.67 515.63Z" fill="#1A6FDF"/>
<path d="M69.88 511.87L73.08 517.47L66.68 517.47Z" fill="#1A6FDF"/>
<path d="M69.55 513.86L72.75 519.46L66.35 519.46Z" fill="#1A6FDF"/>
<path d="M70.27 513.99L73.47 519.59L67.07 519.59Z" fill="#1A6FDF"/>
<path d="M71.47 507.98L74.67 513.58L68.27 513.58Z" fill="#1A6FDF"/>
<path d="M71.56 510.40L74.76 516.00L68.36 516.00Z" fill="#1A6FDF"/>
<path d="M71.10 511.96L74.30 517.56L67.90 517.56Z" fill="#1A6FDF"/>
<path d="M71.67 513.92L74.87 519.52L68.47 519.52Z" fill="#1A6FDF"/>
<path d="M73.08 507.08L76.28 512.68L69.88 512.68Z" fill="#1A6FDF"/>
<path d="M73.12 508.82L76.32 514.42L69.92 514.42Z" fill="#1A6FDF"/>
<path d="M73.00 510.86L76.20 516.46L69.80 516.46Z" fill="#1A6FDF"/>
<path d="M73.14 513.21L76.34 518.81L69.94 518.81Z" fill="#1A6FDF"/>
<path d="M72.30 513.84L75.50 519.44L69.10 519.44Z" fill="#1A6FDF"/>
<path d="M74.23 505.49L77.43 511.09L71.03 511.09Z" fill="#1A6FDF"/>
<path d="M74.11 507.56L77.31 513.16L70.91 513.16Z" fill="#1A6FDF"/>
<path d="M73.95 509.72L77.15 515.32L70.75 515.32Z" fill="#1A6FDF"/>
<path d="M74.18 511.97L77.38 517.57L70.98 517.57Z" fill="#1A6FDF"/>
<path d="M74.28 513.38L77.48 518.98L71.08 518.98Z" fill="#1A6FDF"/>
<path d="M75.99 504.58L79.19 510.18L72.79 510.18Z" fill="#1A6FDF"/>
<path d="M75.16 506.73L78.36 512.33L71.96 512.33Z" fill="#1A6FDF"/>
<path d="M75.96 508.77L79.16 514.37L72.76 514.37Z" fill="#1A6FDF"/>
<path d="M75.57 510.61L78.77 516.21L72.37 516.21Z" fill="#1A6FDF"/>
<path d="M75.21 512.38L78.41 517.98L72.01 517.98Z" fill="#1A6FDF"/>
<path d="M76.68 502.89L79.88 508.49L73.48 508.49Z" fill="#1A6FDF"/>
<path d="M77.25 505.63L80.45 511.23L74.05 511.23Z" fill="#1A6FDF"/>
<path d="M76.49 507.47L79.69 513.07L73.29 513.07Z" fill="#1A6FDF"/>
<path d="M76.81 508.95L80.01 514.55L73.61 514.55Z" fill="#1A6FDF"/>
<path d="M76.69 511.45L79.89 517.05L73.49 517.05Z" fill="#1A6FDF"/>
<path d="M77.27 511.39L80.47 516.99L74.07 516.99Z" fill="#1A6FDF"/>
<path d="M78.13 502.33L81.33 507.93L74.93 507.93Z" fill="#1A6FDF"/>
<path d="M78.78 504.03L81.98 509.63L75.58 509.63Z" fill="#1A6FDF"/>
<path d="M78.80 505.87L82.00 511.47L75.60 511.47Z" fill="#1A6FDF"/>
<path d="M77.88 508.11L81.08 513.71L74.68 513.71Z" fill="#1A6FDF"/>
<path d="M77.83 509.78L81.03 515.38L74.63 515.38Z" fill="#1A6FDF"/>
<path d="M78.21 510.40L81.41 516.00L75.01 516.00Z" fill="#1A6FDF"/>
<path d="M79.51 501.18L82.71 506.78L76.31 506.78Z" fill="#1A6FDF"/>
<path d="M80.10 502.72L83.30 508.32L76.90 508.32Z" fill="#1A6FDF"/>
<path d="M79.66 504.83L82.86 510.43L76.46 510.43Z" fill="#1A6FDF"/>
<path d="M79.84 506.89L83.04 512.49L76.64 512.49Z" fill="#1A6FDF"/>
<path d="M79.76 508.91L82.96 514.51L76.56 514.51Z" fill="#1A6FDF"/>
<path d="M80.14 509.41L83.34 515.01L76.94 515.01Z" fill="#1A6FDF"/>
<path d="M81.32 499.49L84.52 505.09L78.12 505.09Z" fill="#1A6FDF"/>
<path d="M80.90 502.08L84.10 507.68L77.70 507.68Z" fill="#1A6FDF"/>
<path d="M81.12 503.74L84.32 509.34L77.92 509.34Z" fill="#1A6FDF"/>
<path d="M80.61 505.63L83.81 511.23L77.41 511.23Z" fill="#1A6FDF"/>
<path d="M81.18 507.31L84.38 512.91L77.98 512.91Z" fill="#1A6FDF"/>
<path d="M81.22 508.47L84.42 514.07L78.02 514.07Z" fill="#1A6FDF"/>
<path d="M82.68 498.52L85.88 504.12L79.48 504.12Z" fill="#1A6FDF"/>
<path d="M82.71 500.83L85.91 506.43L79.51 506.43Z" fill="#1A6FDF"/>
<path d="M82.02 502.29L85.22 507.89L78.82 507.89Z" fill="#1A6FDF"/>
<path d="M82.68 505.01L85.88 510.61L79.48 510.61Z" fill="#1A6FDF"/>
<path d="M82.25 506.61L85.45 512.21L79.05 512.21Z" fill="#1A6FDF"/>
<path d="M82.59 507.53L85.79 513.13L79.39 513.13Z" fill="#1A6FDF"/>
<path d="M84.00 497.43L87.20 503.03L80.80 503.03Z" fill="#1A6FDF"/>
<path d="M83.78 499.81L86.98 505.41L80.58 505.41Z" fill="#1A6FDF"/>
<path d="M83.43 501.64L86.63 507.24L80.23 507.24Z" fill="#1A6FDF"/>
<path d="M84.14 503.44L87.34 509.04L80.94 509.04Z" fill="#1A6FDF"/>
<path d="M83.62 505.83L86.82 511.43L80.42 511.43Z" fill="#1A6FDF"/>
<path d="M83.64 506.60L86.84 512.20L80.44 512.20Z" fill="#1A6FDF"/>
<path d="M85.63 496.48L88.83 502.08L82.43 502.08Z" fill="#1A6FDF"/>
<path d="M85.66 498.27L88.86 503.87L82.46 503.87Z" fill="#1A6FDF"/>
<path d="M85.14 500.65L88.34 506.25L81.94 506.25Z" fill="#1A6FDF"/>
<path d="M85.68 502.49L88.88 508.09L82.48 508.09Z" fill="#1A6FDF"/>
<path d="M85.03 504.23L88.23 509.83L81.83 509.83Z" fill="#1A6FDF"/>
<path d="M85.33 505.67L88.53 511.27L82.13 511.27Z" fill="#1A6FDF"/>
<path d="M86.84 495.72L90.04 501.32L83.64 501.32Z" fill="#1A6FDF"/>
<path d="M86.55 497.18L89.75 502.78L83.35 502.78Z" fill="#1A6FDF"/>
<path d="M86.49 499.71L89.69 505.31L83.29 505.31Z" fill="#1A6FDF"/>
<path d="M86.47 501.36L89.67 506.96L83.27 506.96Z" fill="#1A6FDF"/>
<path d="M86.62 503.41L89.82 509.01L83.42 509.01Z" fill="#1A6FDF"/>
<path d="M86.61 504.51L89.81 510.11L83.41 510.11Z" fill="#1A6FDF"/>
<path d="M88.48 494.73L91.68 500.33L85.28 500.33Z" fill="#1A6FDF"/>
<path d="M88.03 496.71L91.23 502.31L84.83 502.31Z" fill="#1A6FDF"/>
<path d="M88.53 498.12L91.73 503.72L85.33 503.72Z" fill="#1A6FDF"/>
<path d="M88.35 500.61L91.55 506.21L85.15 506.21Z" fill="#1A6FDF"/>
<path d="M88.26 502.36L91.46 507.96L85.06 507.96Z" fill="#1A6FDF"/>
<path d="M87.89 503.33L91.09 508.93L84.69 508.93Z" fill="#1A6FDF"/>
<path d="M89.29 493.32L92.49 498.92L86.09 498.92Z" fill="#1A6FDF"/>
<path d="M89.05 495.40L92.25 501.00L85.85 501.00Z" fill="#1A6FDF"/>
<path d="M89.69 497.41L92.89 503.01L86.49 503.01Z" fill="#1A6FDF"/>
<path d="M89.90 499.39L93.10 504.99L86.70 504.99Z" fill="#1A6FDF"/>
<path d="M89.58 500.68L92.78 506.28L86.38 506.28Z" fill="#1A6FDF"/>
<path d="M89.75 502.15L92.95 507.75L86.55 507.75Z" fill="#1A6FDF"/>
<path d="M90.81 492.15L94.01 497.75L87.61 497.75Z" fill="#1A6FDF"/>
<path d="M91.01 493.67L94.21 499.27L87.81 499.27Z" fill="#1A6FDF"/>
<path d="M90.65 496.09L93.85 501.69L87.45 501.69Z" fill="#1A6FDF"/>
<path d="M90.88 498.03L94.08 503.63L87.68 503.63Z" fill="#1A6FDF"/>
<path d="M90.75 499.56L93.95 505.16L87.55 505.16Z" fill="#1A6FDF"/>
<path d="M90.93 500.97L94.13 506.57L87.73 506.57Z" fill="#1A6FDF"/>
<path d="M92.61 490.79L95.81 496.39L89.41 496.39Z" fill="#1A6FDF"/>
<path d="M91.81 492.63L95.01 498.23L88.61 498.23Z" fill="#1A6FDF"/>
<path d="M92.66 494.17L95.86 499.77L89.46 499.77Z" fill="#1A6FDF"/>
<path d="M92.07 496.34L95.27 501.94L88.87 501.94Z" fill="#1A6FDF"/>
<path d="M92.33 498.47L95.53 504.07L89.13 504.07Z" fill="#1A6FDF"/>
<path d="M92.27 499.79L95.47 505.39L89.07 505.39Z" fill="#1A6FDF"/>
<path d="M93.32 488.81L96.52 494.41L90.12 494.41Z" fill="#1A6FDF"/>
<path d="M94.17 491.44L97.37 497.04L90.97 497.04Z" fill="#1A6FDF"/>
<path d="M93.29 493.15L96.49 498.75L90.09 498.75Z" fill="#1A6FDF"/>
<path d="M93.52 495.00L96.72 500.60L90.32 500.60Z" fill="#1A6FDF"/>
<path d="M93.55 497.27L96.75 502.87L90.35 502.87Z" fill="#1A6FDF"/>
<path d="M93.79 498.69L96.99 504.29L90.59 504.29Z" fill="#1A6FDF"/>
<path d="M95.16 487.82L98.36 493.42L91.96 493.42Z" fill="#1A6FDF"/>
<path d="M94.98 489.31L98.18 494.91L91.78 494.91Z" fill="#1A6FDF"/>
<path d="M94.78 491.54L97.98 497.14L91.58 497.14Z" fill="#1A6FDF"/>
<path d="M95.20 493.87L98.40 499.47L92.00 499.47Z" fill="#1A6FDF"/>
<path d="M94.98 495.88L98.18 501.48L91.78 501.48Z" fill="#1A6FDF"/>
<path d="M95.22 497.59L98.42 503.19L92.02 503.19Z" fill="#1A6FDF"/>
<path d="M94.97 497.67L98.17 503.27L91.77 503.27Z" fill="#1A6FDF"/>
<path d="M96.42 486.29L99.62 491.89L93.22 491.89Z" fill="#1A6FDF"/>
<path d="M96.46 487.93L99.66 493.53L93.26 493.53Z" fill="#1A6FDF"/>
<path d="M96.54 490.29L99.74 495.89L93.34 495.89Z" fill="#1A6FDF"/>
<path d="M96.07 492.07L99.27 497.67L92.87 497.67Z" fill="#1A6FDF"/>
<path d="M96.43 494.44L99.63 500.04L93.23 500.04Z" fill="#1A6FDF"/>
<path d="M96.94 496.03L100.14 501.63L93.74 501.63Z" fill="#1A6FDF"/>
<path d="M96.90 496.64L100.10 502.24L93.70 502.24Z" fill="#1A6FDF"/>
<path d="M98.21 484.75L101.41 490.35L95.01 490.35Z" fill="#1A6FDF"/>
<path d="M98.29 486.86L101.49 492.46L95.09 492.46Z" fill="#1A6FDF"/>
<path d="M98.07 488.81L101.27 494.41L94.87 494.41Z" fill="#1A6FDF"/>
<path d="M97.96 490.31L101.16 495.91L94.76 495.91Z" fill="#1A6FDF"/>
<path d="M97.99 492.23L101.19 497.83L94.79 497.83Z" fill="#1A6FDF"/>
<path d="M97.54 494.84L100.74 500.44L94.34 500.44Z" fill="#1A6FDF"/>
<path d="M97.44 495.62L100.64 501.22L94.24 501.22Z" fill="#1A6FDF"/>
<path d="M98.92 483.39L102.12 488.99L95.72 488.99Z" fill="#1A6FDF"/>
<path d="M99.47 485.38L102.67 490.98L96.27 490.98Z" fill="#1A6FDF"/>
<path d="M99.75 487.18L102.95 492.78L96.55 492.78Z" fill="#1A6FDF"/>
<path d="M99.60 488.74L102.80 494.34L96.40 494.34Z" fill="#1A6FDF"/>
<path d="M99.57 491.12L102.77 496.72L96.37 496.72Z" fill="#1A6FDF"/>
<path d="M99.52 492.80L102.72 498.40L96.32 498.40Z" fill="#1A6FDF"/>
<path d="M99.55 494.60L102.75 500.20L96.35 500.20Z" fill="#1A6FDF"/>
<path d="M101.03 481.69L104.23 487.29L97.83 487.29Z" fill="#1A6FDF"/>
<path d="M100.38 483.70L103.58 489.30L97.18 489.30Z" fill="#1A6FDF"/>
<path d="M100.82 486.10L104.02 491.70L97.62 491.70Z" fill="#1A6FDF"/>
<path d="M100.59 487.79L103.79 493.39L97.39 493.39Z" fill="#1A6FDF"/>
<path d="M100.60 489.78L103.80 495.38L97.40 495.38Z" fill="#1A6FDF"/>
<path d="M100.62 491.56L103.82 497.16L97.42 497.16Z" fill="#1A6FDF"/>
<path d="M100.70 493.58L103.90 499.18L97.50 499.18Z" fill="#1A6FDF"/>
<path d="M102.35 480.45L105.55 486.05L99.15 486.05Z" fill="#1A6FDF"/>
<path d="M102.29 482.93L105.49 488.53L99.09 488.53Z" fill="#1A6FDF"/>
<path d="M102.27 484.74L105.47 490.34L99.07 490.34Z" fill="#1A6FDF"/>
<path d="M102.08 486.84L105.28 492.44L98.88 492.44Z" fill="#1A6FDF"/>
<path d="M102.50 488.44L105.70 494.04L99.30 494.04Z" fill="#1A6FDF"/>
<path d="M101.70 490.92L104.90 496.52L98.50 496.52Z" fill="#1A6FDF"/>
<path d="M102.52 492.57L105.72 498.17L99.32 498.17Z" fill="#1A6FDF"/>
<path d="M103.72 479.30L106.92 484.90L100.52 484.90Z" fill="#1A6FDF"/>
<path d="M103.27 481.31L106.47 486.91L100.07 486.91Z" fill="#1A6FDF"/>
<path d="M103.59 483.41L106.79 489.01L100.39 489.01Z" fill="#1A6FDF"/>
<path d="M103.23 485.71L106.43 491.31L100.03 491.31Z" fill="#1A6FDF"/>
<path d="M103.95 487.39L107.15 492.99L100.75 492.99Z" fill="#1A6FDF"/>
<path d="M103.71 489.49L106.91 495.09L100.51 495.09Z" fill="#1A6FDF"/>
<path d="M103.85 491.62L107.05 497.22L100.65 497.22Z" fill="#1A6FDF"/>
<path d="M103.27 491.63L106.47 497.23L100.07 497.23Z" fill="#1A6FDF"/>
<path d="M104.57 478.27L107.77 483.87L101.37 483.87Z" fill="#1A6FDF"/>
<path d="M104.72 480.60L107.92 486.20L101.52 486.20Z" fill="#1A6FDF"/>
<path d="M104.54 482.78L107.74 488.38L101.34 488.38Z" fill="#1A6FDF"/>
<path d="M104.88 484.46L108.08 490.06L101.68 490.06Z" fill="#1A6FDF"/>
<path d="M104.87 486.65L108.07 492.25L101.67 492.25Z" fill="#1A6FDF"/>
<path d="M105.22 488.43L108.42 494.03L102.02 494.03Z" fill="#1A6FDF"/>
<path d="M104.88 490.56L108.08 496.16L101.68 496.16Z" fill="#1A6FDF"/>
<path d="M105.26 490.70L108.46 496.30L102.06 496.30Z" fill="#1A6FDF"/>
<path d="M106.76 477.51L109.96 483.11L103.56 483.11Z" fill="#1A6FDF"/>
<path d="M106.03 479.32L109.23 484.92L102.83 484.92Z" fill="#1A6FDF"/>
<path d="M106.52 481.68L109.72 487.28L103.32 487.28Z" fill="#1A6FDF"/>
<path d="M106.76 483.82L109.96 489.42L103.56 489.42Z" fill="#1A6FDF"/>
<path d="M106.04 485.29L109.24 490.89L102.84 490.89Z" fill="#1A6FDF"/>
<path d="M106.06 487.29L109.26 492.89L102.86 492.89Z" fill="#1A6FDF"/>
<path d="M106.50 489.82L109.70 495.42L103.30 495.42Z" fill="#1A6FDF"/>
<path d="M106.70 489.77L109.90 495.37L103.50 495.37Z" fill="#1A6FDF"/>
<path d="M107.93 476.38L111.13 481.98L104.73 481.98Z" fill="#1A6FDF"/>
<path d="M107.29 478.98L110.49 484.58L104.09 484.58Z" fill="#1A6FDF"/>
<path d="M107.49 480.60L110.69 486.20L104.29 486.20Z" fill="#1A6FDF"/>
<path d="M107.78 482.86L110.98 488.46L104.58 488.46Z" fill="#1A6FDF"/>
<path d="M107.21 484.58L110.41 490.18L104.01 490.18Z" fill="#1A6FDF"/>
<path d="M107.64 486.70L110.84 492.30L104.44 492.30Z" fill="#1A6FDF"/>
<path d="M107.41 488.78L110.61 494.38L104.21 494.38Z" fill="#1A6FDF"/>
<path d="M108.16 488.83L111.36 494.43L104.96 494.43Z" fill="#1A6FDF"/>
<path d="M108.72 475.71L111.92 481.31L105.52 481.31Z" fill="#1A6FDF"/>
<path d="M109.27 477.58L112.47 483.18L106.07 483.18Z" fill="#1A6FDF"/>
<path d="M109.49 480.22L112.69 485.82L106.29 485.82Z" fill="#1A6FDF"/>
<path d="M108.70 482.25L111.90 487.85L105.50 487.85Z" fill="#1A6FDF"/>
<path d="M108.97 484.11L112.17 489.71L105.77 489.71Z" fill="#1A6FDF"/>
<path d="M109.36 485.73L112.56 491.33L106.16 491.33Z" fill="#1A6FDF"/>
<path d="M109.28 488.02L112.48 493.62L106.08 493.62Z" fill="#1A6FDF"/>
<path d="M109.41 487.90L112.61 493.50L106.21 493.50Z" fill="#1A6FDF"/>
<path d="M110.54 474.66L113.74 480.26L107.34 480.26Z" fill="#1A6FDF"/>
<path d="M110.49 476.85L113.69 482.45L107.29 482.45Z" fill="#1A6FDF"/>
<path d="M110.72 479.11L113.92 484.71L107.52 484.71Z" fill="#1A6FDF"/>
<path d="M110.57 480.72L113.77 486.32L107.37 486.32Z" fill="#1A6FDF"/>
<path d="M110.65 483.08L113.85 488.68L107.45 488.68Z" fill="#1A6FDF"/>
<path d="M110.18 485.28L113.38 490.88L106.98 490.88Z" fill="#1A6FDF"/>
<path d="M110.66 486.67L113.86 492.27L107.46 492.27Z" fill="#1A6FDF"/>
<path d="M110.93 486.97L114.13 492.57L107.73 492.57Z" fill="#1A6FDF"/>
<path d="M111.95 474.11L115.15 479.71L108.75 479.71Z" fill="#1A6FDF"/>
<path d="M111.86 475.85L115.06 481.45L108.66 481.45Z" fill="#1A6FDF"/>
<path d="M111.58 477.65L114.78 483.25L108.38 483.25Z" fill="#1A6FDF"/>
<path d="M112.12 480.20L115.32 485.80L108.92 485.80Z" fill="#1A6FDF"/>
<path d="M111.94 482.19L115.14 487.79L108.74 487.79Z" fill="#1A6FDF"/>
<path d="M111.76 483.81L114.96 489.41L108.56 489.41Z" fill="#1A6FDF"/>
<path d="M111.78 485.85L114.98 491.45L108.58 491.45Z" fill="#1A6FDF"/>
<path d="M113.57 472.90L116.77 478.50L110.37 478.50Z" fill="#1A6FDF"/>
<path d="M113.13 474.94L116.33 480.54L109.93 480.54Z" fill="#1A6FDF"/>
<path d="M113.34 477.24L116.54 482.84L110.14 482.84Z" fill="#1A6FDF"/>
<path d="M113.15 479.30L116.35 484.90L109.95 484.90Z" fill="#1A6FDF"/>
<path d="M112.91 480.83L116.11 486.43L109.71 486.43Z" fill="#1A6FDF"/>
<path d="M112.90 482.71L116.10 488.31L109.70 488.31Z" fill="#1A6FDF"/>
<path d="M113.58 484.65L116.78 490.25L110.38 490.25Z" fill="#1A6FDF"/>
<path d="M114.94 472.56L118.14 478.16L111.74 478.16Z" fill="#1A6FDF"/>
<path d="M114.95 474.38L118.15 479.98L111.75 479.98Z" fill="#1A6FDF"/>
<path d="M114.35 476.23L117.55 481.83L111.15 481.83Z" fill="#1A6FDF"/>
<path d="M114.39 478.33L117.59 483.93L111.19 483.93Z" fill="#1A6FDF"/>
<path d="M114.77 480.07L117.97 485.67L111.57 485.67Z" fill="#1A6FDF"/>
<path d="M114.45 482.53L117.65 488.13L111.25 488.13Z" fill="#1A6FDF"/>
<path d="M114.23 483.46L117.43 489.06L111.03 489.06Z" fill="#1A6FDF"/>
<path d="M116.55 471.70L119.75 477.30L113.35 477.30Z" fill="#1A6FDF"/>
<path d="M116.15 473.86L119.35 479.46L112.95 479.46Z" fill="#1A6FDF"/>
<path d="M116.23 476.18L119.43 481.78L113.03 481.78Z" fill="#1A6FDF"/>
<path d="M116.29 477.63L119.49 483.23L113.09 483.23Z" fill="#1A6FDF"/>
<path d="M116.46 479.78L119.66 485.38L113.26 485.38Z" fill="#1A6FDF"/>
<path d="M116.20 481.98L119.40 487.58L113.00 487.58Z" fill="#1A6FDF"/>
<path d="M115.60 482.53L118.80 488.13L112.40 488.13Z" fill="#1A6FDF"/>
<path d="M117.49 471.30L120.69 476.90L114.29 476.90Z" fill="#1A6FDF"/>
<path d="M117.46 473.04L120.66 478.64L114.26 478.64Z" fill="#1A6FDF"/>
<path d="M117.53 474.91L120.73 480.51L114.33 480.51Z" fill="#1A6FDF"/>
<path d="M117.50 477.40L120.70 483.00L114.30 483.00Z" fill="#1A6FDF"/>
<path d="M117.44 479.34L120.64 484.94L114.24 484.94Z" fill="#1A6FDF"/>
<path d="M117.96 481.60L121.16 487.20L114.76 487.20Z" fill="#1A6FDF"/>
<path d="M117.14 481.67L120.34 487.27L113.94 487.27Z" fill="#1A6FDF"/>
<path d="M118.45 470.62L121.65 476.22L115.25 476.22Z" fill="#1A6FDF"/>
<path d="M118.63 472.39L121.83 477.99L115.43 477.99Z" fill="#1A6FDF"/>
<path d="M118.94 475.08L122.14 480.68L115.74 480.68Z" fill="#1A6FDF"/>
<path d="M118.72 477.03L121.92 482.63L115.52 482.63Z" fill="#1A6FDF"/>
<path d="M119.09 478.44L122.29 484.04L115.89 484.04Z" fill="#1A6FDF"/>
<path d="M119.26 480.81L122.46 486.41L116.06 486.41Z" fill="#1A6FDF"/>
<path d="M119.33 480.81L122.53 486.41L116.13 486.41Z" fill="#1A6FDF"/>
<path d="M120.14 470.41L123.34 476.01L116.94 476.01Z" fill="#1A6FDF"/>
<path d="M120.73 472.45L123.93 478.05L117.53 478.05Z" fill="#1A6FDF"/>
<path d="M120.24 474.37L123.44 479.97L117.04 479.97Z" fill="#1A6FDF"/>
<path d="M120.29 475.85L123.49 481.45L117.09 481.45Z" fill="#1A6FDF"/>
<path d="M119.84 477.82L123.04 483.42L116.64 483.42Z" fill="#1A6FDF"/>
<path d="M120.00 479.81L123.20 485.41L116.80 485.41Z" fill="#1A6FDF"/>
<path d="M121.62 469.71L124.82 475.31L118.42 475.31Z" fill="#1A6FDF"/>
<path d="M121.50 471.56L124.70 477.16L118.30 477.16Z" fill="#1A6FDF"/>
<path d="M121.96 473.51L125.16 479.11L118.76 479.11Z" fill="#1A6FDF"/>
<path d="M121.38 475.91L124.58 481.51L118.18 481.51Z" fill="#1A6FDF"/>
<path d="M121.92 477.48L125.12 483.08L118.72 483.08Z" fill="#1A6FDF"/>
<path d="M121.57 478.44L124.77 484.04L118.37 484.04Z" fill="#1A6FDF"/>
<path d="M122.82 468.44L126.02 474.04L119.62 474.04Z" fill="#1A6FDF"/>
<path d="M122.81 471.07L126.01 476.67L119.61 476.67Z" fill="#1A6FDF"/>
<path d="M122.74 472.81L125.94 478.41L119.54 478.41Z" fill="#1A6FDF"/>
<path d="M122.80 474.61L126.00 480.21L119.60 480.21Z" fill="#1A6FDF"/>
<path d="M122.77 476.76L125.97 482.36L119.57 482.36Z" fill="#1A6FDF"/>
<path d="M122.77 477.06L125.97 482.66L119.57 482.66Z" fill="#1A6FDF"/>
<path d="M124.06 466.65L127.26 472.25L120.86 472.25Z" fill="#1A6FDF"/>
<path d="M124.45 468.96L127.65 474.56L121.25 474.56Z" fill="#1A6FDF"/>
<path d="M124.70 470.68L127.90 476.28L121.50 476.28Z" fill="#1A6FDF"/>
<path d="M124.40 472.95L127.60 478.55L121.20 478.55Z" fill="#1A6FDF"/>
<path d="M124.03 475.41L127.23 481.01L120.83 481.01Z" fill="#1A6FDF"/>
<path d="M124.22 475.69L127.42 481.29L121.02 481.29Z" fill="#1A6FDF"/>
<path d="M125.75 464.93L128.95 470.53L122.55 470.53Z" fill="#1A6FDF"/>
<path d="M125.45 467.41L128.65 473.01L122.25 473.01Z" fill="#1A6FDF"/>
<path d="M125.68 469.46L128.88 475.06L122.48 475.06Z" fill="#1A6FDF"/>
<path d="M125.87 471.58L129.07 477.18L122.67 477.18Z" fill="#1A6FDF"/>
<path d="M125.70 473.03L128.90 478.63L122.50 478.63Z" fill="#1A6FDF"/>
<path d="M125.67 474.41L128.87 480.01L122.47 480.01Z" fill="#1A6FDF"/>
<path d="M127.14 463.91L130.34 469.51L123.94 469.51Z" fill="#1A6FDF"/>
<path d="M127.48 466.61L130.68 472.21L124.28 472.21Z" fill="#1A6FDF"/>
<path d="M127.39 467.84L130.59 473.44L124.19 473.44Z" fill="#1A6FDF"/>
<path d="M126.83 469.91L130.03 475.51L123.63 475.51Z" fill="#1A6FDF"/>
<path d="M126.97 471.86L130.17 477.46L123.77 477.46Z" fill="#1A6FDF"/>
<path d="M126.85 473.19L130.05 478.79L123.65 478.79Z" fill="#1A6FDF"/>
<path d="M128.40 463.68L131.60 469.28L125.20 469.28Z" fill="#1A6FDF"/>
<path d="M128.68 465.54L131.88 471.14L125.48 471.14Z" fill="#1A6FDF"/>
<path d="M129.12 467.65L132.32 473.25L125.92 473.25Z" fill="#1A6FDF"/>
<path d="M128.23 469.14L131.43 474.74L125.03 474.74Z" fill="#1A6FDF"/>
<path d="M128.81 471.66L132.01 477.26L125.61 477.26Z" fill="#1A6FDF"/>
<path d="M128.29 471.96L131.49 477.56L125.09 477.56Z" fill="#1A6FDF"/>
<path d="M281.10 345.00L284.30 350.60L277.90 350.60Z" fill="#1A6FDF"/>
<path d="M289.80 346.50L293.00 352.10L286.60 352.10Z" fill="#1A6FDF"/>
<path d="M252.00 363.40L255.20 369.00L248.80 369.00Z" fill="#1A6FDF"/>
<path d="M247.90 373.10L251.10 378.70L244.70 378.70Z" fill="#1A6FDF"/>
<path d="M230.80 386.80L234.00 392.40L227.60 392.40Z" fill="#1A6FDF"/>
<path d="M221.80 394.00L225.00 399.60L218.60 399.60Z" fill="#1A6FDF"/>
<path d="M203.20 408.20L206.40 413.80L200.00 413.80Z" fill="#1A6FDF"/>
<path d="M206.40 406.20L209.60 411.80L203.20 411.80Z" fill="#1A6FDF"/>
<path d="M180.30 422.30L183.50 427.90L177.10 427.90Z" fill="#1A6FDF"/>
<path d="M180.30 425.90L183.50 431.50L177.10 431.50Z" fill="#1A6FDF"/>
<path d="M173.50 427.80L176.70 433.40L170.30 433.40Z" fill="#1A6FDF"/>
<path d="M169.30 434.20L172.50 439.80L166.10 439.80Z" fill="#1A6FDF"/>
<path d="M168.40 436.90L171.60 442.50L165.20 442.50Z" fill="#1A6FDF"/>
<path d="M168.00 439.60L171.20 445.20L164.80 445.20Z" fill="#1A6FDF"/>
<path d="M161.10 440.60L164.30 446.20L157.90 446.20Z" fill="#1A6FDF"/>
<path d="M155.20 434.20L158.40 439.80L152.00 439.80Z" fill="#1A6FDF"/>
<path d="M159.30 450.60L162.50 456.20L156.10 456.20Z" fill="#1A6FDF"/>
<path d="M154.20 458.90L157.40 464.50L151.00 464.50Z" fill="#1A6FDF"/>
<path d="M146.00 448.80L149.20 454.40L142.80 454.40Z" fill="#1A6FDF"/>
<path d="M146.00 452.50L149.20 458.10L142.80 458.10Z" fill="#1A6FDF"/>
<path d="M146.00 456.10L149.20 461.70L142.80 461.70Z" fill="#1A6FDF"/>
<path d="M137.40 447.20L140.60 452.80L134.20 452.80Z" fill="#1A6FDF"/>
<path d="M127.40 454.70L130.60 460.30L124.20 460.30Z" fill="#1A6FDF"/>
<path d="M138.30 461.30L141.50 466.90L135.10 466.90Z" fill="#1A6FDF"/>
<path d="M129.10 464.70L132.30 470.30L125.90 470.30Z" fill="#1A6FDF"/>
<path d="M128.30 462.20L131.50 467.80L125.10 467.80Z" fill="#1A6FDF"/>
<path d="M133.00 467.20L136.20 472.80L129.80 472.80Z" fill="#1A6FDF"/>
<path d="M135.00 470.20L138.20 475.80L131.80 475.80Z" fill="#1A6FDF"/>
<path d="M131.00 472.20L134.20 477.80L127.80 477.80Z" fill="#1A6FDF"/>
<path d="M128.00 458.20L131.20 463.80L124.80 463.80Z" fill="#1A6FDF"/>
<path d="M131.50 455.20L134.70 460.80L128.30 460.80Z" fill="#1A6FDF"/>
<path d="M129.50 468.20L132.70 473.80L126.30 473.80Z" fill="#1A6FDF"/>
<path d="M126.50 465.20L129.70 470.80L123.30 470.80Z" fill="#1A6FDF"/>
<path d="M132.00 462.20L135.20 467.80L128.80 467.80Z" fill="#1A6FDF"/>
<rect x="595.90" y="335.40" width="4.8" height="4.8" fill="#515151"/>
<rect x="575.70" y="361.70" width="4.8" height="4.8" fill="#515151"/>
<rect x="566.30" y="386.10" width="4.8" height="4.8" fill="#515151"/>
<rect x="601.60" y="366.10" width="4.8" height="4.8" fill="#515151"/>
<rect x="477.10" y="465.50" width="4.8" height="4.8" fill="#515151"/>
<rect x="429.40" y="489.40" width="4.8" height="4.8" fill="#515151"/>
<rect x="414.00" y="518.90" width="4.8" height="4.8" fill="#515151"/>
<circle cx="414.41" cy="509.48" r="2.9" fill="#F14040"/>
<circle cx="417.41" cy="507.18" r="2.9" fill="#F14040"/>
<circle cx="417.23" cy="515.55" r="2.9" fill="#F14040"/>
<circle cx="418.36" cy="515.10" r="2.9" fill="#F14040"/>
<circle cx="419.73" cy="512.46" r="2.9" fill="#F14040"/>
<circle cx="425.10" cy="508.14" r="2.9" fill="#F14040"/>
<circle cx="426.44" cy="506.74" r="2.9" fill="#F14040"/>
<circle cx="430.09" cy="499.67" r="2.9" fill="#F14040"/>
<circle cx="431.53" cy="498.16" r="2.9" fill="#F14040"/>
<circle cx="432.87" cy="497.37" r="2.9" fill="#F14040"/>
<circle cx="434.32" cy="503.29" r="2.9" fill="#F14040"/>
<circle cx="437.12" cy="492.52" r="2.9" fill="#F14040"/>
<circle cx="438.49" cy="499.75" r="2.9" fill="#F14040"/>
<circle cx="439.36" cy="498.60" r="2.9" fill="#F14040"/>
<circle cx="440.89" cy="489.16" r="2.9" fill="#F14040"/>
<circle cx="440.51" cy="497.08" r="2.9" fill="#F14040"/>
<circle cx="443.51" cy="494.66" r="2.9" fill="#F14040"/>
<circle cx="446.77" cy="493.52" r="2.9" fill="#F14040"/>
<circle cx="452.23" cy="480.03" r="2.9" fill="#F14040"/>
<circle cx="455.33" cy="478.24" r="2.9" fill="#F14040"/>
<circle cx="456.32" cy="477.06" r="2.9" fill="#F14040"/>
<circle cx="455.83" cy="485.58" r="2.9" fill="#F14040"/>
<circle cx="459.44" cy="476.18" r="2.9" fill="#F14040"/>
<circle cx="458.77" cy="483.53" r="2.9" fill="#F14040"/>
<circle cx="460.88" cy="474.48" r="2.9" fill="#F14040"/>
<circle cx="462.23" cy="481.08" r="2.9" fill="#F14040"/>
<circle cx="463.42" cy="473.26" r="2.9" fill="#F14040"/>
<circle cx="463.45" cy="479.66" r="2.9" fill="#F14040"/>
<circle cx="598.00" cy="365.60" r="2.9" fill="#F14040"/>
<circle cx="604.00" cy="367.70" r="2.9" fill="#F14040"/>
<circle cx="577.80" cy="381.70" r="2.9" fill="#F14040"/>
<circle cx="568.70" cy="391.20" r="2.9" fill="#F14040"/>
<circle cx="490.50" cy="455.50" r="2.9" fill="#F14040"/>
<circle cx="468.80" cy="466.50" r="2.9" fill="#F14040"/>
<circle cx="467.40" cy="468.80" r="2.9" fill="#F14040"/>
<circle cx="464.70" cy="479.80" r="2.9" fill="#F14040"/>
<circle cx="451.90" cy="476.10" r="2.9" fill="#F14040"/>
<circle cx="456.50" cy="488.90" r="2.9" fill="#F14040"/>
<path d="M411.24 508.28L414.44 513.88L408.04 513.88Z" fill="#1A6FDF"/>
<path d="M411.40 510.32L414.60 515.92L408.20 515.92Z" fill="#1A6FDF"/>
<path d="M411.07 512.52L414.27 518.12L407.87 518.12Z" fill="#1A6FDF"/>
<path d="M411.92 512.84L415.12 518.44L408.72 518.44Z" fill="#1A6FDF"/>
<path d="M412.62 507.27L415.82 512.87L409.42 512.87Z" fill="#1A6FDF"/>
<path d="M412.68 508.98L415.88 514.58L409.48 514.58Z" fill="#1A6FDF"/>
<path d="M412.51 511.02L415.71 516.62L409.31 516.62Z" fill="#1A6FDF"/>
<path d="M413.33 512.36L416.53 517.96L410.13 517.96Z" fill="#1A6FDF"/>
<path d="M414.60 506.23L417.80 511.83L411.40 511.83Z" fill="#1A6FDF"/>
<path d="M414.11 508.57L417.31 514.17L410.91 514.17Z" fill="#1A6FDF"/>
<path d="M414.53 510.76L417.73 516.36L411.33 516.36Z" fill="#1A6FDF"/>
<path d="M414.68 511.87L417.88 517.47L411.48 517.47Z" fill="#1A6FDF"/>
<path d="M415.38 505.68L418.58 511.28L412.18 511.28Z" fill="#1A6FDF"/>
<path d="M415.29 508.05L418.49 513.65L412.09 513.65Z" fill="#1A6FDF"/>
<path d="M416.07 509.74L419.27 515.34L412.87 515.34Z" fill="#1A6FDF"/>
<path d="M415.50 511.39L418.70 516.99L412.30 516.99Z" fill="#1A6FDF"/>
<path d="M417.48 505.21L420.68 510.81L414.28 510.81Z" fill="#1A6FDF"/>
<path d="M417.11 506.86L420.31 512.46L413.91 512.46Z" fill="#1A6FDF"/>
<path d="M417.20 508.87L420.40 514.47L414.00 514.47Z" fill="#1A6FDF"/>
<path d="M416.76 510.91L419.96 516.51L413.56 516.51Z" fill="#1A6FDF"/>
<path d="M418.53 504.13L421.73 509.73L415.33 509.73Z" fill="#1A6FDF"/>
<path d="M418.34 506.56L421.54 512.16L415.14 512.16Z" fill="#1A6FDF"/>
<path d="M418.20 508.09L421.40 513.69L415.00 513.69Z" fill="#1A6FDF"/>
<path d="M418.20 509.90L421.40 515.50L415.00 515.50Z" fill="#1A6FDF"/>
<path d="M419.72 503.43L422.92 509.03L416.52 509.03Z" fill="#1A6FDF"/>
<path d="M420.30 505.07L423.50 510.67L417.10 510.67Z" fill="#1A6FDF"/>
<path d="M419.46 507.17L422.66 512.77L416.26 512.77Z" fill="#1A6FDF"/>
<path d="M420.17 507.95L423.37 513.55L416.97 513.55Z" fill="#1A6FDF"/>
<path d="M421.26 502.06L424.46 507.66L418.06 507.66Z" fill="#1A6FDF"/>
<path d="M421.50 504.75L424.70 510.35L418.30 510.35Z" fill="#1A6FDF"/>
<path d="M421.75 506.00L424.95 511.60L418.55 511.60Z" fill="#1A6FDF"/>
<path d="M422.22 501.12L425.42 506.72L419.02 506.72Z" fill="#1A6FDF"/>
<path d="M423.17 503.51L426.37 509.11L419.97 509.11Z" fill="#1A6FDF"/>
<path d="M422.61 504.36L425.81 509.96L419.41 509.96Z" fill="#1A6FDF"/>
<path d="M424.42 499.99L427.62 505.59L421.22 505.59Z" fill="#1A6FDF"/>
<path d="M423.79 502.11L426.99 507.71L420.59 507.71Z" fill="#1A6FDF"/>
<path d="M423.74 503.51L426.94 509.11L420.54 509.11Z" fill="#1A6FDF"/>
<path d="M425.33 498.74L428.53 504.34L422.13 504.34Z" fill="#1A6FDF"/>
<path d="M425.04 500.87L428.24 506.47L421.84 506.47Z" fill="#1A6FDF"/>
<path d="M425.78 502.67L428.98 508.27L422.58 508.27Z" fill="#1A6FDF"/>
<path d="M426.82 498.06L430.02 503.66L423.62 503.66Z" fill="#1A6FDF"/>
<path d="M426.46 499.93L429.66 505.53L423.26 505.53Z" fill="#1A6FDF"/>
<path d="M426.57 501.85L429.77 507.45L423.37 507.45Z" fill="#1A6FDF"/>
<path d="M428.05 497.84L431.25 503.44L424.85 503.44Z" fill="#1A6FDF"/>
<path d="M427.92 499.47L431.12 505.07L424.72 505.07Z" fill="#1A6FDF"/>
<path d="M428.57 501.15L431.77 506.75L425.37 506.75Z" fill="#1A6FDF"/>
<path d="M429.68 496.27L432.88 501.87L426.48 501.87Z" fill="#1A6FDF"/>
<path d="M429.61 498.10L432.81 503.70L426.41 503.70Z" fill="#1A6FDF"/>
<path d="M429.62 500.45L432.82 506.05L426.42 506.05Z" fill="#1A6FDF"/>
<path d="M430.63 495.08L433.83 500.68L427.43 500.68Z" fill="#1A6FDF"/>
<path d="M430.84 497.05L434.04 502.65L427.64 502.65Z" fill="#1A6FDF"/>
<path d="M430.83 499.58L434.03 505.18L427.63 505.18Z" fill="#1A6FDF"/>
<path d="M430.74 499.75L433.94 505.35L427.54 505.35Z" fill="#1A6FDF"/>
<path d="M432.40 494.41L435.60 500.01L429.20 500.01Z" fill="#1A6FDF"/>
<path d="M432.65 496.32L435.85 501.92L429.45 501.92Z" fill="#1A6FDF"/>
<path d="M432.74 498.08L435.94 503.68L429.54 503.68Z" fill="#1A6FDF"/>
<path d="M432.09 498.88L435.29 504.48L428.89 504.48Z" fill="#1A6FDF"/>
<path d="M433.74 493.02L436.94 498.62L430.54 498.62Z" fill="#1A6FDF"/>
<path d="M434.20 495.01L437.40 500.61L431.00 500.61Z" fill="#1A6FDF"/>
<path d="M434.21 496.92L437.41 502.52L431.01 502.52Z" fill="#1A6FDF"/>
<path d="M434.05 497.84L437.25 503.44L430.85 503.44Z" fill="#1A6FDF"/>
<path d="M434.87 492.08L438.07 497.68L431.67 497.68Z" fill="#1A6FDF"/>
<path d="M435.76 493.83L438.96 499.43L432.56 499.43Z" fill="#1A6FDF"/>
<path d="M434.84 496.02L438.04 501.62L431.64 501.62Z" fill="#1A6FDF"/>
<path d="M434.93 496.80L438.13 502.40L431.73 502.40Z" fill="#1A6FDF"/>
<path d="M436.26 490.03L439.46 495.63L433.06 495.63Z" fill="#1A6FDF"/>
<path d="M436.84 492.36L440.04 497.96L433.64 497.96Z" fill="#1A6FDF"/>
<path d="M436.95 494.64L440.15 500.24L433.75 500.24Z" fill="#1A6FDF"/>
<path d="M436.42 495.66L439.62 501.26L433.22 501.26Z" fill="#1A6FDF"/>
<path d="M437.72 489.15L440.92 494.75L434.52 494.75Z" fill="#1A6FDF"/>
<path d="M438.38 491.20L441.58 496.80L435.18 496.80Z" fill="#1A6FDF"/>
<path d="M438.15 493.20L441.35 498.80L434.95 498.80Z" fill="#1A6FDF"/>
<path d="M437.80 494.52L441.00 500.12L434.60 500.12Z" fill="#1A6FDF"/>
<path d="M439.47 487.52L442.67 493.12L436.27 493.12Z" fill="#1A6FDF"/>
<path d="M439.03 489.13L442.23 494.73L435.83 494.73Z" fill="#1A6FDF"/>
<path d="M439.59 491.49L442.79 497.09L436.39 497.09Z" fill="#1A6FDF"/>
<path d="M439.86 493.38L443.06 498.98L436.66 498.98Z" fill="#1A6FDF"/>
<path d="M440.92 485.41L444.12 491.01L437.72 491.01Z" fill="#1A6FDF"/>
<path d="M441.24 488.06L444.44 493.66L438.04 493.66Z" fill="#1A6FDF"/>
<path d="M440.49 489.84L443.69 495.44L437.29 495.44Z" fill="#1A6FDF"/>
<path d="M440.78 492.03L443.98 497.63L437.58 497.63Z" fill="#1A6FDF"/>
<path d="M440.71 492.04L443.91 497.64L437.51 497.64Z" fill="#1A6FDF"/>
<path d="M442.69 484.09L445.89 489.69L439.49 489.69Z" fill="#1A6FDF"/>
<path d="M442.23 486.37L445.43 491.97L439.03 491.97Z" fill="#1A6FDF"/>
<path d="M442.58 487.74L445.78 493.34L439.38 493.34Z" fill="#1A6FDF"/>
<path d="M442.68 489.84L445.88 495.44L439.48 495.44Z" fill="#1A6FDF"/>
<path d="M442.10 490.68L445.30 496.28L438.90 496.28Z" fill="#1A6FDF"/>
<path d="M444.00 482.60L447.20 488.20L440.80 488.20Z" fill="#1A6FDF"/>
<path d="M444.07 484.61L447.27 490.21L440.87 490.21Z" fill="#1A6FDF"/>
<path d="M443.35 486.86L446.55 492.46L440.15 492.46Z" fill="#1A6FDF"/>
<path d="M443.54 488.90L446.74 494.50L440.34 494.50Z" fill="#1A6FDF"/>
<path d="M444.10 489.70L447.30 495.30L440.90 495.30Z" fill="#1A6FDF"/>
<path d="M445.09 482.50L448.29 488.10L441.89 488.10Z" fill="#1A6FDF"/>
<path d="M445.08 483.99L448.28 489.59L441.88 489.59Z" fill="#1A6FDF"/>
<path d="M444.85 486.61L448.05 492.21L441.65 492.21Z" fill="#1A6FDF"/>
<path d="M444.96 488.54L448.16 494.14L441.76 494.14Z" fill="#1A6FDF"/>
<path d="M445.59 489.25L448.79 494.85L442.39 494.85Z" fill="#1A6FDF"/>
<path d="M446.61 481.64L449.81 487.24L443.41 487.24Z" fill="#1A6FDF"/>
<path d="M446.91 483.77L450.11 489.37L443.71 489.37Z" fill="#1A6FDF"/>
<path d="M446.91 485.64L450.11 491.24L443.71 491.24Z" fill="#1A6FDF"/>
<path d="M446.87 488.02L450.07 493.62L443.67 493.62Z" fill="#1A6FDF"/>
<path d="M446.61 488.79L449.81 494.39L443.41 494.39Z" fill="#1A6FDF"/>
<path d="M448.06 480.47L451.26 486.07L444.86 486.07Z" fill="#1A6FDF"/>
<path d="M447.48 482.48L450.68 488.08L444.28 488.08Z" fill="#1A6FDF"/>
<path d="M448.21 484.50L451.41 490.10L445.01 490.10Z" fill="#1A6FDF"/>
<path d="M448.30 486.66L451.50 492.26L445.10 492.26Z" fill="#1A6FDF"/>
<path d="M447.98 488.33L451.18 493.93L444.78 493.93Z" fill="#1A6FDF"/>
<path d="M448.89 479.38L452.09 484.98L445.69 484.98Z" fill="#1A6FDF"/>
<path d="M449.74 481.20L452.94 486.80L446.54 486.80Z" fill="#1A6FDF"/>
<path d="M449.45 483.31L452.65 488.91L446.25 488.91Z" fill="#1A6FDF"/>
<path d="M449.10 485.07L452.30 490.67L445.90 490.67Z" fill="#1A6FDF"/>
<path d="M448.82 487.34L452.02 492.94L445.62 492.94Z" fill="#1A6FDF"/>
<path d="M451.00 478.33L454.20 483.93L447.80 483.93Z" fill="#1A6FDF"/>
<path d="M451.15 479.81L454.35 485.41L447.95 485.41Z" fill="#1A6FDF"/>
<path d="M450.78 482.08L453.98 487.68L447.58 487.68Z" fill="#1A6FDF"/>
<path d="M450.77 484.43L453.97 490.03L447.57 490.03Z" fill="#1A6FDF"/>
<path d="M450.96 486.45L454.16 492.05L447.76 492.05Z" fill="#1A6FDF"/>
<path d="M450.32 486.13L453.52 491.73L447.12 491.73Z" fill="#1A6FDF"/>
<path d="M452.35 476.73L455.55 482.33L449.15 482.33Z" fill="#1A6FDF"/>
<path d="M452.43 478.48L455.63 484.08L449.23 484.08Z" fill="#1A6FDF"/>
<path d="M452.53 480.56L455.73 486.16L449.33 486.16Z" fill="#1A6FDF"/>
<path d="M452.20 482.96L455.40 488.56L449.00 488.56Z" fill="#1A6FDF"/>
<path d="M452.30 484.49L455.50 490.09L449.10 490.09Z" fill="#1A6FDF"/>
<path d="M451.83 484.92L455.03 490.52L448.63 490.52Z" fill="#1A6FDF"/>
<path d="M453.40 475.20L456.60 480.80L450.20 480.80Z" fill="#1A6FDF"/>
<path d="M453.82 477.11L457.02 482.71L450.62 482.71Z" fill="#1A6FDF"/>
<path d="M453.41 478.89L456.61 484.49L450.21 484.49Z" fill="#1A6FDF"/>
<path d="M453.18 481.31L456.38 486.91L449.98 486.91Z" fill="#1A6FDF"/>
<path d="M453.69 483.37L456.89 488.97L450.49 488.97Z" fill="#1A6FDF"/>
<path d="M453.36 483.70L456.56 489.30L450.16 489.30Z" fill="#1A6FDF"/>
<path d="M454.56 474.63L457.76 480.23L451.36 480.23Z" fill="#1A6FDF"/>
<path d="M455.37 477.36L458.57 482.96L452.17 482.96Z" fill="#1A6FDF"/>
<path d="M455.32 479.06L458.52 484.66L452.12 484.66Z" fill="#1A6FDF"/>
<path d="M454.71 480.65L457.91 486.25L451.51 486.25Z" fill="#1A6FDF"/>
<path d="M454.66 482.30L457.86 487.90L451.46 487.90Z" fill="#1A6FDF"/>
<path d="M455.95 474.46L459.15 480.06L452.75 480.06Z" fill="#1A6FDF"/>
<path d="M456.10 477.03L459.30 482.63L452.90 482.63Z" fill="#1A6FDF"/>
<path d="M455.96 478.90L459.16 484.50L452.76 484.50Z" fill="#1A6FDF"/>
<path d="M456.48 480.71L459.68 486.31L453.28 486.31Z" fill="#1A6FDF"/>
<path d="M456.76 480.90L459.96 486.50L453.56 486.50Z" fill="#1A6FDF"/>
<path d="M457.32 474.01L460.52 479.61L454.12 479.61Z" fill="#1A6FDF"/>
<path d="M458.19 476.20L461.39 481.80L454.99 481.80Z" fill="#1A6FDF"/>
<path d="M458.09 478.53L461.29 484.13L454.89 484.13Z" fill="#1A6FDF"/>
<path d="M457.93 479.50L461.13 485.10L454.73 485.10Z" fill="#1A6FDF"/>
<path d="M459.48 473.58L462.68 479.18L456.28 479.18Z" fill="#1A6FDF"/>
<path d="M459.16 475.56L462.36 481.16L455.96 481.16Z" fill="#1A6FDF"/>
<path d="M459.32 477.44L462.52 483.04L456.12 483.04Z" fill="#1A6FDF"/>
<path d="M459.10 478.18L462.30 483.78L455.90 483.78Z" fill="#1A6FDF"/>
<path d="M460.26 472.17L463.46 477.77L457.06 477.77Z" fill="#1A6FDF"/>
<path d="M460.68 474.54L463.88 480.14L457.48 480.14Z" fill="#1A6FDF"/>
<path d="M460.33 476.16L463.53 481.76L457.13 481.76Z" fill="#1A6FDF"/>
<path d="M460.42 476.88L463.62 482.48L457.22 482.48Z" fill="#1A6FDF"/>
<path d="M461.55 470.83L464.75 476.43L458.35 476.43Z" fill="#1A6FDF"/>
<path d="M462.25 473.37L465.45 478.97L459.05 478.97Z" fill="#1A6FDF"/>
<path d="M461.63 475.15L464.83 480.75L458.43 480.75Z" fill="#1A6FDF"/>
<path d="M461.88 475.58L465.08 481.18L458.68 481.18Z" fill="#1A6FDF"/>
<path d="M463.51 470.30L466.71 475.90L460.31 475.90Z" fill="#1A6FDF"/>
<path d="M463.74 471.87L466.94 477.47L460.54 477.47Z" fill="#1A6FDF"/>
<path d="M463.65 474.23L466.85 479.83L460.45 479.83Z" fill="#1A6FDF"/>
<path d="M463.39 474.29L466.59 479.89L460.19 479.89Z" fill="#1A6FDF"/>
<path d="M464.80 468.38L468.00 473.98L461.60 473.98Z" fill="#1A6FDF"/>
<path d="M464.83 470.56L468.03 476.16L461.63 476.16Z" fill="#1A6FDF"/>
<path d="M465.06 472.88L468.26 478.48L461.86 478.48Z" fill="#1A6FDF"/>
<path d="M464.51 473.06L467.71 478.66L461.31 478.66Z" fill="#1A6FDF"/>
<path d="M598.00 373.30L601.20 378.90L594.80 378.90Z" fill="#1A6FDF"/>
<path d="M604.00 366.40L607.20 372.00L600.80 372.00Z" fill="#1A6FDF"/>
<path d="M577.80 381.50L581.00 387.10L574.60 387.10Z" fill="#1A6FDF"/>
<path d="M568.70 381.50L571.90 387.10L565.50 387.10Z" fill="#1A6FDF"/>
<path d="M490.50 456.80L493.70 462.40L487.30 462.40Z" fill="#1A6FDF"/>
<path d="M479.50 462.80L482.70 468.40L476.30 468.40Z" fill="#1A6FDF"/>
<path d="M468.80 460.00L472.00 465.60L465.60 465.60Z" fill="#1A6FDF"/>
<path d="M465.60 470.60L468.80 476.20L462.40 476.20Z" fill="#1A6FDF"/>
<path d="M469.30 472.40L472.50 478.00L466.10 478.00Z" fill="#1A6FDF"/>
<path d="M462.90 473.30L466.10 478.90L459.70 478.90Z" fill="#1A6FDF"/>
<path d="M452.80 477.00L456.00 482.60L449.60 482.60Z" fill="#1A6FDF"/>
<path d="M453.70 481.50L456.90 487.10L450.50 487.10Z" fill="#1A6FDF"/>
<path d="M455.60 484.30L458.80 489.90L452.40 489.90Z" fill="#1A6FDF"/>
<path d="M454.60 474.20L457.80 479.80L451.40 479.80Z" fill="#1A6FDF"/>
<path d="M446.90 491.00L450.10 496.60L443.70 496.60Z" fill="#1A6FDF"/>
<path d="M431.80 508.10L435.00 513.70L428.60 513.70Z" fill="#1A6FDF"/>
<path d="M435.00 502.10L438.20 507.70L431.80 507.70Z" fill="#1A6FDF"/>
<line x1="57.40" y1="220.02" x2="300.00" y2="-7.32" stroke="#000" stroke-width="2.7" stroke-dasharray="10.200 10.548" stroke-dashoffset="0.890" clip-path="url(#c0)"/>
<line x1="57.40" y1="221.33" x2="330.00" y2="46.27" stroke="#000" stroke-width="2.7" stroke-dasharray="10.200 10.572" stroke-dashoffset="13.786" clip-path="url(#c0)"/>
<line x1="400.50" y1="219.50" x2="640.00" y2="-7.86" stroke="#000" stroke-width="2.7" stroke-dasharray="10.200 10.993" stroke-dashoffset="1.106" clip-path="url(#c1)"/>
<line x1="400.50" y1="220.16" x2="680.00" y2="39.46" stroke="#000" stroke-width="2.7" stroke-dasharray="10.200 10.943" stroke-dashoffset="14.126" clip-path="url(#c1)"/>
<line x1="65.60" y1="519.65" x2="300.00" y2="295.27" stroke="#000" stroke-width="2.7" stroke-dasharray="10.200 10.529" stroke-dashoffset="20.213" clip-path="url(#c2)"/>
<line x1="65.60" y1="519.95" x2="330.00" y2="350.77" stroke="#000" stroke-width="2.7" stroke-dasharray="10.200 10.573" stroke-dashoffset="0.079" clip-path="url(#c2)"/>
<line x1="407.60" y1="520.70" x2="640.00" y2="290.61" stroke="#000" stroke-width="2.7" stroke-dasharray="10.200 10.931" stroke-dashoffset="18.645" clip-path="url(#c3)"/>
<line x1="407.60" y1="521.51" x2="680.00" y2="339.45" stroke="#000" stroke-width="2.7" stroke-dasharray="10.200 10.938" stroke-dashoffset="19.281" clip-path="url(#c3)"/>
<rect x="57.40" y="11.00" width="263.10" height="210.30" fill="none" stroke="#303030" stroke-width="1.2"/>
<line x1="62.40" y1="221.30" x2="62.40" y2="225.70" stroke="#303030" stroke-width="1.2"/>
<line x1="114.02" y1="221.30" x2="114.02" y2="225.70" stroke="#303030" stroke-width="1.2"/>
<line x1="165.64" y1="221.30" x2="165.64" y2="225.70" stroke="#303030" stroke-width="1.2"/>
<line x1="217.26" y1="221.30" x2="217.26" y2="225.70" stroke="#303030" stroke-width="1.2"/>
<line x1="268.88" y1="221.30" x2="268.88" y2="225.70" stroke="#303030" stroke-width="1.2"/>
<line x1="320.50" y1="221.30" x2="320.50" y2="225.70" stroke="#303030" stroke-width="1.2"/>
<line x1="88.21" y1="221.30" x2="88.21" y2="223.70" stroke="#303030" stroke-width="1.2"/>
<line x1="139.83" y1="221.30" x2="139.83" y2="223.70" stroke="#303030" stroke-width="1.2"/>
<line x1="191.45" y1="221.30" x2="191.45" y2="223.70" stroke="#303030" stroke-width="1.2"/>
<line x1="243.07" y1="221.30" x2="243.07" y2="223.70" stroke="#303030" stroke-width="1.2"/>
<line x1="294.69" y1="221.30" x2="294.69" y2="223.70" stroke="#303030" stroke-width="1.2"/>
<line x1="53.00" y1="217.50" x2="57.40" y2="217.50" stroke="#303030" stroke-width="1.2"/>
<line x1="53.00" y1="176.20" x2="57.40" y2="176.20" stroke="#303030" stroke-width="1.2"/>
<line x1="53.00" y1="134.90" x2="57.40" y2="134.90" stroke="#303030" stroke-width="1.2"/>
<line x1="53.00" y1="93.60" x2="57.40" y2="93.60" stroke="#303030" stroke-width="1.2"/>
<line x1="53.00" y1="52.30" x2="57.40" y2="52.30" stroke="#303030" stroke-width="1.2"/>
<line x1="53.00" y1="11.00" x2="57.40" y2="11.00" stroke="#303030" stroke-width="1.2"/>
<line x1="55.00" y1="196.85" x2="57.40" y2="196.85" stroke="#303030" stroke-width="1.2"/>
<line x1="55.00" y1="155.55" x2="57.40" y2="155.55" stroke="#303030" stroke-width="1.2"/>
<line x1="55.00" y1="114.25" x2="57.40" y2="114.25" stroke="#303030" stroke-width="1.2"/>
<line x1="55.00" y1="72.95" x2="57.40" y2="72.95" stroke="#303030" stroke-width="1.2"/>
<line x1="55.00" y1="31.65" x2="57.40" y2="31.65" stroke="#303030" stroke-width="1.2"/>
<text x="62.40" y="240.10" text-anchor="middle" font-size="14">0</text>
<text x="114.02" y="240.10" text-anchor="middle" font-size="14">10000</text>
<text x="165.64" y="240.10" text-anchor="middle" font-size="14">20000</text>
<text x="217.26" y="240.10" text-anchor="middle" font-size="14">30000</text>
<text x="268.88" y="240.10" text-anchor="middle" font-size="14">40000</text>
<text x="320.50" y="240.10" text-anchor="middle" font-size="14">50000</text>
<text x="50.30" y="221.60" text-anchor="end" font-size="14">0</text>
<text x="50.30" y="180.30" text-anchor="end" font-size="14">10000</text>
<text x="50.30" y="139.00" text-anchor="end" font-size="14">20000</text>
<text x="50.30" y="97.70" text-anchor="end" font-size="14">30000</text>
<text x="50.30" y="56.40" text-anchor="end" font-size="14">40000</text>
<text x="50.30" y="15.10" text-anchor="end" font-size="14">50000</text>
<text x="188.95" y="262.70" text-anchor="middle" font-size="14.0">Experimental value</text>
<rect x="400.50" y="5.33" width="267.00" height="214.97" fill="none" stroke="#303030" stroke-width="1.2"/>
<line x1="405.50" y1="220.30" x2="405.50" y2="224.70" stroke="#303030" stroke-width="1.2"/>
<line x1="457.90" y1="220.30" x2="457.90" y2="224.70" stroke="#303030" stroke-width="1.2"/>
<line x1="510.30" y1="220.30" x2="510.30" y2="224.70" stroke="#303030" stroke-width="1.2"/>
<line x1="562.70" y1="220.30" x2="562.70" y2="224.70" stroke="#303030" stroke-width="1.2"/>
<line x1="615.10" y1="220.30" x2="615.10" y2="224.70" stroke="#303030" stroke-width="1.2"/>
<line x1="667.50" y1="220.30" x2="667.50" y2="224.70" stroke="#303030" stroke-width="1.2"/>
<line x1="431.70" y1="220.30" x2="431.70" y2="222.70" stroke="#303030" stroke-width="1.2"/>
<line x1="484.10" y1="220.30" x2="484.10" y2="222.70" stroke="#303030" stroke-width="1.2"/>
<line x1="536.50" y1="220.30" x2="536.50" y2="222.70" stroke="#303030" stroke-width="1.2"/>
<line x1="588.90" y1="220.30" x2="588.90" y2="222.70" stroke="#303030" stroke-width="1.2"/>
<line x1="641.30" y1="220.30" x2="641.30" y2="222.70" stroke="#303030" stroke-width="1.2"/>
<line x1="396.10" y1="216.50" x2="400.50" y2="216.50" stroke="#303030" stroke-width="1.2"/>
<line x1="396.10" y1="174.27" x2="400.50" y2="174.27" stroke="#303030" stroke-width="1.2"/>
<line x1="396.10" y1="132.03" x2="400.50" y2="132.03" stroke="#303030" stroke-width="1.2"/>
<line x1="396.10" y1="89.80" x2="400.50" y2="89.80" stroke="#303030" stroke-width="1.2"/>
<line x1="396.10" y1="47.56" x2="400.50" y2="47.56" stroke="#303030" stroke-width="1.2"/>
<line x1="396.10" y1="5.33" x2="400.50" y2="5.33" stroke="#303030" stroke-width="1.2"/>
<line x1="398.10" y1="195.38" x2="400.50" y2="195.38" stroke="#303030" stroke-width="1.2"/>
<line x1="398.10" y1="153.15" x2="400.50" y2="153.15" stroke="#303030" stroke-width="1.2"/>
<line x1="398.10" y1="110.92" x2="400.50" y2="110.92" stroke="#303030" stroke-width="1.2"/>
<line x1="398.10" y1="68.68" x2="400.50" y2="68.68" stroke="#303030" stroke-width="1.2"/>
<line x1="398.10" y1="26.45" x2="400.50" y2="26.45" stroke="#303030" stroke-width="1.2"/>
<text x="405.50" y="239.10" text-anchor="middle" font-size="14">0</text>
<text x="457.90" y="239.10" text-anchor="middle" font-size="14">10000</text>
<text x="510.30" y="239.10" text-anchor="middle" font-size="14">20000</text>
<text x="562.70" y="239.10" text-anchor="middle" font-size="14">30000</text>
<text x="615.10" y="239.10" text-anchor="middle" font-size="14">40000</text>
<text x="667.50" y="239.10" text-anchor="middle" font-size="14">50000</text>
<text x="393.40" y="220.60" text-anchor="end" font-size="14">0</text>
<text x="393.40" y="178.37" text-anchor="end" font-size="14">10000</text>
<text x="393.40" y="136.13" text-anchor="end" font-size="14">20000</text>
<text x="393.40" y="93.90" text-anchor="end" font-size="14">30000</text>
<text x="393.40" y="51.66" text-anchor="end" font-size="14">40000</text>
<text x="393.40" y="9.43" text-anchor="end" font-size="14">50000</text>
<text x="534.00" y="261.70" text-anchor="middle" font-size="14.3">Experimental value</text>
<rect x="57.40" y="317.00" width="263.00" height="210.30" fill="none" stroke="#303030" stroke-width="1.2"/>
<line x1="65.50" y1="527.30" x2="65.50" y2="531.70" stroke="#303030" stroke-width="1.2"/>
<line x1="150.46" y1="527.30" x2="150.46" y2="531.70" stroke="#303030" stroke-width="1.2"/>
<line x1="235.42" y1="527.30" x2="235.42" y2="531.70" stroke="#303030" stroke-width="1.2"/>
<line x1="320.38" y1="527.30" x2="320.38" y2="531.70" stroke="#303030" stroke-width="1.2"/>
<line x1="107.98" y1="527.30" x2="107.98" y2="529.70" stroke="#303030" stroke-width="1.2"/>
<line x1="192.94" y1="527.30" x2="192.94" y2="529.70" stroke="#303030" stroke-width="1.2"/>
<line x1="277.90" y1="527.30" x2="277.90" y2="529.70" stroke="#303030" stroke-width="1.2"/>
<line x1="53.00" y1="520.67" x2="57.40" y2="520.67" stroke="#303030" stroke-width="1.2"/>
<line x1="53.00" y1="452.78" x2="57.40" y2="452.78" stroke="#303030" stroke-width="1.2"/>
<line x1="53.00" y1="384.89" x2="57.40" y2="384.89" stroke="#303030" stroke-width="1.2"/>
<line x1="53.00" y1="317.00" x2="57.40" y2="317.00" stroke="#303030" stroke-width="1.2"/>
<line x1="55.00" y1="486.72" x2="57.40" y2="486.72" stroke="#303030" stroke-width="1.2"/>
<line x1="55.00" y1="418.83" x2="57.40" y2="418.83" stroke="#303030" stroke-width="1.2"/>
<line x1="55.00" y1="350.94" x2="57.40" y2="350.94" stroke="#303030" stroke-width="1.2"/>
<text x="65.50" y="546.10" text-anchor="middle" font-size="14">0</text>
<text x="150.46" y="546.10" text-anchor="middle" font-size="14">2000</text>
<text x="235.42" y="546.10" text-anchor="middle" font-size="14">4000</text>
<text x="320.38" y="546.10" text-anchor="middle" font-size="14">6000</text>
<text x="50.30" y="524.77" text-anchor="end" font-size="14">0</text>
<text x="50.30" y="456.88" text-anchor="end" font-size="14">2000</text>
<text x="50.30" y="388.99" text-anchor="end" font-size="14">4000</text>
<text x="50.30" y="321.10" text-anchor="end" font-size="14">6000</text>
<text x="188.90" y="568.70" text-anchor="middle" font-size="14.0">Experimental value</text>
<rect x="400.50" y="311.33" width="267.00" height="215.00" fill="none" stroke="#303030" stroke-width="1.2"/>
<line x1="407.50" y1="526.33" x2="407.50" y2="530.73" stroke="#303030" stroke-width="1.2"/>
<line x1="481.79" y1="526.33" x2="481.79" y2="530.73" stroke="#303030" stroke-width="1.2"/>
<line x1="556.07" y1="526.33" x2="556.07" y2="530.73" stroke="#303030" stroke-width="1.2"/>
<line x1="630.36" y1="526.33" x2="630.36" y2="530.73" stroke="#303030" stroke-width="1.2"/>
<line x1="444.64" y1="526.33" x2="444.64" y2="528.73" stroke="#303030" stroke-width="1.2"/>
<line x1="518.93" y1="526.33" x2="518.93" y2="528.73" stroke="#303030" stroke-width="1.2"/>
<line x1="593.22" y1="526.33" x2="593.22" y2="528.73" stroke="#303030" stroke-width="1.2"/>
<line x1="667.50" y1="526.33" x2="667.50" y2="528.73" stroke="#303030" stroke-width="1.2"/>
<line x1="396.10" y1="520.60" x2="400.50" y2="520.60" stroke="#303030" stroke-width="1.2"/>
<line x1="396.10" y1="460.81" x2="400.50" y2="460.81" stroke="#303030" stroke-width="1.2"/>
<line x1="396.10" y1="401.02" x2="400.50" y2="401.02" stroke="#303030" stroke-width="1.2"/>
<line x1="396.10" y1="341.22" x2="400.50" y2="341.22" stroke="#303030" stroke-width="1.2"/>
<line x1="398.10" y1="490.70" x2="400.50" y2="490.70" stroke="#303030" stroke-width="1.2"/>
<line x1="398.10" y1="430.91" x2="400.50" y2="430.91" stroke="#303030" stroke-width="1.2"/>
<line x1="398.10" y1="371.12" x2="400.50" y2="371.12" stroke="#303030" stroke-width="1.2"/>
<line x1="398.10" y1="311.33" x2="400.50" y2="311.33" stroke="#303030" stroke-width="1.2"/>
<text x="407.50" y="545.13" text-anchor="middle" font-size="14">0</text>
<text x="481.79" y="545.13" text-anchor="middle" font-size="14">2000</text>
<text x="556.07" y="545.13" text-anchor="middle" font-size="14">4000</text>
<text x="630.36" y="545.13" text-anchor="middle" font-size="14">6000</text>
<text x="393.40" y="524.70" text-anchor="end" font-size="14">0</text>
<text x="393.40" y="464.91" text-anchor="end" font-size="14">2000</text>
<text x="393.40" y="405.12" text-anchor="end" font-size="14">4000</text>
<text x="393.40" y="345.32" text-anchor="end" font-size="14">6000</text>
<text x="534.00" y="567.73" text-anchor="middle" font-size="14.3">Experimental value</text>
<text transform="translate(10.00,116.20) rotate(-90)" x="0" y="0" text-anchor="middle" font-size="14.2">Predicted value</text>
<text transform="translate(352.00,112.30) rotate(-90)" x="0" y="0" text-anchor="middle" font-size="14.3">Predicted value</text>
<text transform="translate(17.90,421.60) rotate(-90)" x="0" y="0" text-anchor="middle" font-size="14.2">Predicted value</text>
<text transform="translate(360.00,417.90) rotate(-90)" x="0" y="0" text-anchor="middle" font-size="14.3">Predicted value</text>
<rect x="60.00" y="14.60" width="120.50" height="49.90" fill="#fff" stroke="#b4b4b4" stroke-width="1"/>
<rect x="73.80" y="21.30" width="5.0" height="5.0" fill="#515151"/>
<circle cx="76.30" cy="39.70" r="3.0" fill="#F14040"/>
<path d="M76.30 52.60L79.50 58.20L73.10 58.20Z" fill="#1A6FDF"/>
<text x="94.20" y="28.30" font-size="13">SVR</text>
<text x="94.20" y="43.80" font-size="13">RF</text>
<text x="94.20" y="59.60" font-size="13">XGBoost</text>
<rect x="403.70" y="7.30" width="85.70" height="51.00" fill="#fff" stroke="#b4b4b4" stroke-width="1"/>
<rect x="417.70" y="13.70" width="5.0" height="5.0" fill="#515151"/>
<circle cx="420.20" cy="32.40" r="3.0" fill="#F14040"/>
<path d="M420.20 45.30L423.40 50.90L417.00 50.90Z" fill="#1A6FDF"/>
<text x="438.20" y="21.00" font-size="13.3">SVR</text>
<text x="438.20" y="37.10" font-size="13.3">RF</text>
<text x="438.20" y="53.20" font-size="13.3">XGBoost</text>
<rect x="60.30" y="319.20" width="85.20" height="49.20" fill="#fff" stroke="#b4b4b4" stroke-width="1"/>
<rect x="73.90" y="325.10" width="5.0" height="5.0" fill="#515151"/>
<circle cx="76.40" cy="343.90" r="3.0" fill="#F14040"/>
<path d="M76.40 356.60L79.60 362.20L73.20 362.20Z" fill="#1A6FDF"/>
<text x="94.30" y="331.90" font-size="13">SVR</text>
<text x="94.30" y="348.10" font-size="13">RF</text>
<text x="94.30" y="363.60" font-size="13">XGBoost</text>
<rect x="403.70" y="313.30" width="85.70" height="51.00" fill="#fff" stroke="#b4b4b4" stroke-width="1"/>
<rect x="417.70" y="319.70" width="5.0" height="5.0" fill="#515151"/>
<circle cx="420.20" cy="338.40" r="3.0" fill="#F14040"/>
<path d="M420.20 351.30L423.40 356.90L417.00 356.90Z" fill="#1A6FDF"/>
<text x="438.20" y="327.00" font-size="13.3">SVR</text>
<text x="438.20" y="343.10" font-size="13.3">RF</text>
<text x="438.20" y="359.20" font-size="13.3">XGBoost</text>
<text x="209.00" y="31.00" font-size="14"><tspan font-style="italic">y</tspan>=1.2<tspan font-style="italic">x</tspan></text>
<text x="272.30" y="105.50" font-size="14"><tspan font-style="italic">y</tspan>=0.8<tspan font-style="italic">x</tspan></text>
<text x="555.00" y="26.00" font-size="14"><tspan font-style="italic">y</tspan>=1.2<tspan font-style="italic">x</tspan></text>
<text x="618.30" y="102.00" font-size="14"><tspan font-style="italic">y</tspan>=0.8<tspan font-style="italic">x</tspan></text>
<text x="208.70" y="337.30" font-size="14"><tspan font-style="italic">y</tspan>=1.2<tspan font-style="italic">x</tspan></text>
<text x="271.90" y="411.70" font-size="14"><tspan font-style="italic">y</tspan>=0.8<tspan font-style="italic">x</tspan></text>
<text x="554.70" y="331.40" font-size="14"><tspan font-style="italic">y</tspan>=1.2<tspan font-style="italic">x</tspan></text>
<text x="618.10" y="407.90" font-size="14"><tspan font-style="italic">y</tspan>=0.8<tspan font-style="italic">x</tspan></text>
<text x="341.8" y="290.6" text-anchor="middle" font-size="17.7">(a) CCFST under axial loading</text>
<text x="341.8" y="597.4" text-anchor="middle" font-size="17.72">(b) CCFST under eccentric loading</text>
</svg>
</body></html>
